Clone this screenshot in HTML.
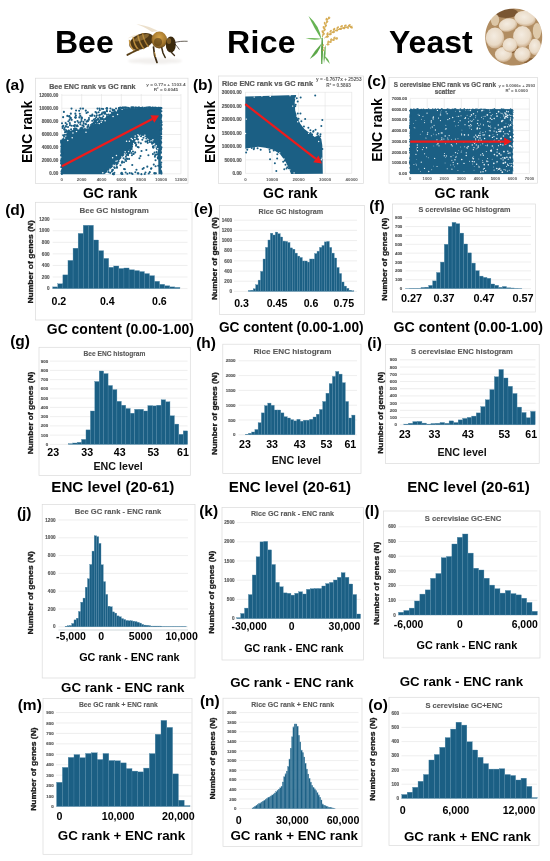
<!DOCTYPE html>
<html><head><meta charset="utf-8"><title>Figure</title>
<style>
html,body{margin:0;padding:0;background:#fff;width:550px;height:861px;overflow:hidden;}
svg{display:block;font-family:"Liberation Sans", sans-serif;will-change:transform;}
</style></head><body>
<svg width="550" height="861" viewBox="0 0 550 861" font-family='"Liberation Sans", sans-serif'><rect x="0" y="0" width="550" height="861" fill="#fff"/>
<text x="55.00" y="53.30" font-size="32.00" font-weight="bold" fill="#000" text-anchor="start">Bee</text>
<text x="227" y="53.3" font-size="32" font-weight="bold" letter-spacing="0.35">Rice</text>
<text x="389.00" y="53.30" font-size="32.00" font-weight="bold" fill="#000" text-anchor="start">Yeast</text>
<g>
<defs>
<radialGradient id="bAbd" cx="0.45" cy="0.4" r="0.65"><stop offset="0" stop-color="#8a6424"/><stop offset="1" stop-color="#3b2a12"/></radialGradient>
<radialGradient id="bTh" cx="0.5" cy="0.35" r="0.7"><stop offset="0" stop-color="#d6a448"/><stop offset="0.6" stop-color="#a5782e"/><stop offset="1" stop-color="#5e4218"/></radialGradient>
<filter id="blur1" x="-20%" y="-20%" width="140%" height="140%"><feGaussianBlur stdDeviation="0.45"/></filter>
<filter id="blur2" x="-20%" y="-20%" width="140%" height="140%"><feGaussianBlur stdDeviation="0.8"/></filter>
</defs>
<ellipse cx="155" cy="61" rx="27" ry="3" fill="#f2f0ee" filter="url(#blur2)"/>
<g filter="url(#blur1)">
<path d="M152,32 C147,28.5 141,25.5 136.5,24.5 C141,24.3 150,26.5 158,31 Z" fill="#e7d8bf" opacity="0.8"/>
<path d="M146,35.5 C140,35 133,36.5 127.5,38.5 C132,34.5 141,33.2 151,33.8 Z" fill="#ebdfc9" opacity="0.75"/>
<g transform="rotate(-22 141.5 41.5)">
<ellipse cx="141.5" cy="41.5" rx="12.8" ry="7.6" fill="#4e3716"/>
<path d="M131,35.5 C129.5,39 129.5,44 131.5,47.5" stroke="#c89a48" stroke-width="1.5" fill="none"/>
<path d="M135.5,34.3 C134,39 134,44.5 136,49" stroke="#b98c3c" stroke-width="1.5" fill="none"/>
<path d="M140.5,34 C139.5,39 139.5,44.5 141,49.3" stroke="#b08538" stroke-width="1.5" fill="none"/>
<path d="M145.5,34.2 C144.5,39 144.5,44.5 146,49" stroke="#a87c32" stroke-width="1.4" fill="none"/>
<ellipse cx="143" cy="38" rx="8" ry="2.5" fill="#c9a050" opacity="0.45"/>
</g>
<ellipse cx="159.3" cy="40" rx="7.8" ry="8.4" fill="url(#bTh)"/>
<ellipse cx="158" cy="42" rx="4" ry="4" fill="#4a3414" opacity="0.55"/>
<ellipse cx="170.8" cy="44.5" rx="5" ry="8" fill="#3a2911"/>
<ellipse cx="169" cy="41" rx="2.2" ry="3" fill="#7a5a26"/>
<path d="M174.6,42.5 C178,41.5 183,41 187.6,41.3" stroke="#2a2018" stroke-width="0.7" fill="none"/>
<path d="M174.6,43.6 C176.5,45.5 178,47.5 179.4,49.6" stroke="#2a2018" stroke-width="0.7" fill="none"/>
<path d="M153.5,47 L154.5,55 L157,62.5" stroke="#3a2a12" stroke-width="1.7" fill="none" stroke-linecap="round"/>
<path d="M161.8,48 L163,53 L165.2,57.5" stroke="#3a2a12" stroke-width="1.5" fill="none" stroke-linecap="round"/>
<path d="M170.5,50.5 L172,53 L174.5,55.5" stroke="#3a2a12" stroke-width="1.3" fill="none" stroke-linecap="round"/>
<path d="M138,49.6 L132,52.5 L127.4,54.9" stroke="#5a4018" stroke-width="1.9" fill="none" stroke-linecap="round"/>
<path d="M154.5,52 L155.5,57" stroke="#c89a48" stroke-width="0.9" fill="none"/>
</g>
</g>
<g filter="url(#blur1)"><path d="M308.50,16.00 Q314.12,28.23 321.50,39.50 Q319.38,25.33 308.50,16.00 Z" fill="#66b352"/><path d="M305.50,38.30 Q313.68,40.95 322.00,38.80 Q313.79,37.35 305.50,38.30 Z" fill="#72ba5c"/><path d="M309.80,59.00 Q319.08,53.84 321.50,43.50 Q314.61,50.47 309.80,59.00 Z" fill="#5ca748"/><path d="M321.50,64.00 Q324.30,50.07 322.30,36.00 Q320.30,49.95 321.50,64.00 Z" fill="#58a145"/><path d="M321.2,64 L321.6,38 L322.6,38 L322.4,64 Z" fill="#58a145"/><path d="M324.00,63.50 Q326.19,54.12 325.80,44.50 Q322.61,53.78 324.00,63.50 Z" fill="#66ad52"/><path d="M329.80,64.00 Q328.80,58.45 324.00,55.50 Q325.83,60.48 329.80,64.00 Z" fill="#6cb456"/><path d="M322.3,37 C324,30 326,22 329,16.5" stroke="#c39d45" stroke-width="0.9" fill="none"/><path d="M324.5,38 C331,32 340,27.5 352.5,26.2" stroke="#c39d45" stroke-width="0.9" fill="none"/><path d="M326.5,45 C329,41.5 333,39 337.5,37.5" stroke="#c39d45" stroke-width="0.9" fill="none"/><ellipse cx="323.72" cy="34.16" rx="1.50" ry="0.90" fill="#d9ae55" transform="rotate(-51.9 323.72 34.16)"/><ellipse cx="322.46" cy="31.66" rx="1.50" ry="0.90" fill="#d9ae55" transform="rotate(-101.9 322.46 31.66)"/><ellipse cx="324.70" cy="29.97" rx="1.50" ry="0.90" fill="#d9ae55" transform="rotate(-51.9 324.70 29.97)"/><ellipse cx="323.51" cy="27.44" rx="1.50" ry="0.90" fill="#d9ae55" transform="rotate(-99.1 323.51 27.44)"/><ellipse cx="325.83" cy="25.87" rx="1.50" ry="0.90" fill="#d9ae55" transform="rotate(-49.1 325.83 25.87)"/><ellipse cx="324.69" cy="23.31" rx="1.50" ry="0.90" fill="#d9ae55" transform="rotate(-99.1 324.69 23.31)"/><ellipse cx="327.04" cy="21.96" rx="1.50" ry="0.90" fill="#d9ae55" transform="rotate(-36.7 327.04 21.96)"/><ellipse cx="326.48" cy="19.21" rx="1.50" ry="0.90" fill="#d9ae55" transform="rotate(-86.7 326.48 19.21)"/><ellipse cx="329.08" cy="18.17" rx="1.50" ry="0.90" fill="#d9ae55" transform="rotate(-36.7 329.08 18.17)"/><ellipse cx="327.45" cy="36.72" rx="1.60" ry="1.00" fill="#d7ab52" transform="rotate(-15.0 327.45 36.72)"/><ellipse cx="327.51" cy="33.79" rx="1.60" ry="1.00" fill="#d7ab52" transform="rotate(-65.0 327.51 33.79)"/><ellipse cx="330.41" cy="34.23" rx="1.60" ry="1.00" fill="#d7ab52" transform="rotate(-15.0 330.41 34.23)"/><ellipse cx="330.67" cy="31.22" rx="1.60" ry="1.00" fill="#d7ab52" transform="rotate(-54.2 330.67 31.22)"/><ellipse cx="333.43" cy="32.20" rx="1.60" ry="1.00" fill="#d7ab52" transform="rotate(-4.2 333.43 32.20)"/><ellipse cx="334.05" cy="29.33" rx="1.60" ry="1.00" fill="#d7ab52" transform="rotate(-54.2 334.05 29.33)"/><ellipse cx="336.68" cy="30.42" rx="1.60" ry="1.00" fill="#d7ab52" transform="rotate(4.2 336.68 30.42)"/><ellipse cx="337.71" cy="27.67" rx="1.60" ry="1.00" fill="#d7ab52" transform="rotate(-45.8 337.71 27.67)"/><ellipse cx="340.30" cy="29.04" rx="1.60" ry="1.00" fill="#d7ab52" transform="rotate(4.2 340.30 29.04)"/><ellipse cx="341.55" cy="26.38" rx="1.60" ry="1.00" fill="#d7ab52" transform="rotate(-35.3 341.55 26.38)"/><ellipse cx="343.85" cy="28.20" rx="1.60" ry="1.00" fill="#d7ab52" transform="rotate(14.7 343.85 28.20)"/><ellipse cx="345.36" cy="25.69" rx="1.60" ry="1.00" fill="#d7ab52" transform="rotate(-35.3 345.36 25.69)"/><ellipse cx="347.53" cy="27.65" rx="1.60" ry="1.00" fill="#d7ab52" transform="rotate(22.0 347.53 27.65)"/><ellipse cx="349.35" cy="25.35" rx="1.60" ry="1.00" fill="#d7ab52" transform="rotate(-28.0 349.35 25.35)"/><ellipse cx="351.39" cy="27.45" rx="1.60" ry="1.00" fill="#d7ab52" transform="rotate(22.0 351.39 27.45)"/><ellipse cx="328.27" cy="44.46" rx="1.40" ry="0.90" fill="#d9b05a" transform="rotate(-21.8 328.27 44.46)"/><ellipse cx="328.18" cy="41.93" rx="1.40" ry="0.90" fill="#d9b05a" transform="rotate(-71.8 328.18 41.93)"/><ellipse cx="330.57" cy="42.00" rx="1.40" ry="0.90" fill="#d9b05a" transform="rotate(-8.3 330.57 42.00)"/><ellipse cx="331.08" cy="39.52" rx="1.40" ry="0.90" fill="#d9b05a" transform="rotate(-58.3 331.08 39.52)"/><ellipse cx="333.56" cy="40.04" rx="1.40" ry="0.90" fill="#d9b05a" transform="rotate(-8.3 333.56 40.04)"/><ellipse cx="334.37" cy="37.71" rx="1.40" ry="0.90" fill="#d9b05a" transform="rotate(-45.7 334.37 37.71)"/><ellipse cx="336.68" cy="38.76" rx="1.40" ry="0.90" fill="#d9b05a" transform="rotate(4.3 336.68 38.76)"/><ellipse cx="323.24" cy="45.23" rx="1.00" ry="0.70" fill="#d4a850" transform="rotate(117.9 323.24 45.23)"/><ellipse cx="324.11" cy="47.78" rx="1.00" ry="0.70" fill="#d4a850" transform="rotate(67.9 324.11 47.78)"/><ellipse cx="323.23" cy="50.28" rx="1.00" ry="0.70" fill="#d4a850" transform="rotate(111.7 323.23 50.28)"/></g>
<g>
<defs><clipPath id="yc"><path d="M513.7,8.5 C530,8.5 542.2,20.5 542.2,37 C542.2,53.5 530,65.5 513.7,65.5 C497.5,65.5 485.2,53.5 485.2,37 C485.2,20.5 497.5,8.5 513.7,8.5 Z"/></clipPath>
<radialGradient id="ycell" cx="0.45" cy="0.4" r="0.62"><stop offset="0" stop-color="#f4ece1"/><stop offset="0.7" stop-color="#e9dac6"/><stop offset="1" stop-color="#c9a985"/></radialGradient>
</defs>
<g clip-path="url(#yc)" filter="url(#blur1)">
<rect x="484" y="8" width="59" height="58" fill="#b18d62"/>
<ellipse cx="506" cy="13" rx="12" ry="5" fill="#7a5632"/>
<ellipse cx="513" cy="49" rx="5" ry="4" fill="#8a6238"/>
<ellipse cx="532" cy="62" rx="8" ry="4" fill="#8a6238"/>
<ellipse cx="495" cy="20" rx="4.2" ry="6" fill="#dcc6a6"/>
<ellipse cx="537" cy="31" rx="4.2" ry="8" fill="#dfcaab"/>
<ellipse cx="525" cy="18.6" rx="10.8" ry="7.6" fill="url(#ycell)" transform="rotate(8 525 18.6)"/>
<ellipse cx="508" cy="25" rx="9.2" ry="6.6" fill="url(#ycell)" transform="rotate(-12 508 25)"/>
<ellipse cx="495" cy="38" rx="9.2" ry="10.6" fill="url(#ycell)"/>
<ellipse cx="535" cy="47" rx="6.2" ry="8.2" fill="url(#ycell)"/>
<ellipse cx="522.5" cy="36.7" rx="9.4" ry="10.6" fill="url(#ycell)"/>
<ellipse cx="503.5" cy="54.5" rx="8.6" ry="7.4" fill="url(#ycell)"/>
<ellipse cx="522.5" cy="54.5" rx="8.2" ry="7.4" fill="url(#ycell)"/>
<ellipse cx="510" cy="45.2" rx="7.4" ry="7.3" fill="url(#ycell)"/>
</g>
</g>
<rect x="35.50" y="78.20" width="152.50" height="105.40" fill="#fff" stroke="#dadada" stroke-width="0.7"/>
<line x1="61.80" y1="94.00" x2="61.80" y2="173.80" stroke="#e3e3e3" stroke-width="0.60"/>
<line x1="81.66" y1="94.00" x2="81.66" y2="173.80" stroke="#e3e3e3" stroke-width="0.60"/>
<line x1="101.52" y1="94.00" x2="101.52" y2="173.80" stroke="#e3e3e3" stroke-width="0.60"/>
<line x1="121.38" y1="94.00" x2="121.38" y2="173.80" stroke="#e3e3e3" stroke-width="0.60"/>
<line x1="141.24" y1="94.00" x2="141.24" y2="173.80" stroke="#e3e3e3" stroke-width="0.60"/>
<line x1="161.10" y1="94.00" x2="161.10" y2="173.80" stroke="#e3e3e3" stroke-width="0.60"/>
<line x1="180.96" y1="94.00" x2="180.96" y2="173.80" stroke="#e3e3e3" stroke-width="0.60"/>
<line x1="61.80" y1="173.80" x2="180.96" y2="173.80" stroke="#e3e3e3" stroke-width="0.60"/>
<line x1="61.80" y1="160.70" x2="180.96" y2="160.70" stroke="#e3e3e3" stroke-width="0.60"/>
<line x1="61.80" y1="147.60" x2="180.96" y2="147.60" stroke="#e3e3e3" stroke-width="0.60"/>
<line x1="61.80" y1="134.50" x2="180.96" y2="134.50" stroke="#e3e3e3" stroke-width="0.60"/>
<line x1="61.80" y1="121.40" x2="180.96" y2="121.40" stroke="#e3e3e3" stroke-width="0.60"/>
<line x1="61.80" y1="108.30" x2="180.96" y2="108.30" stroke="#e3e3e3" stroke-width="0.60"/>
<line x1="61.80" y1="95.20" x2="180.96" y2="95.20" stroke="#e3e3e3" stroke-width="0.60"/>
<text x="49.13" y="89.20" font-size="7.10" font-weight="bold" fill="#595959" stroke="#595959" stroke-width="0.20" textLength="86.37" lengthAdjust="spacingAndGlyphs">Bee ENC rank vs GC rank</text>
<text x="146.36" y="85.60" font-size="4.40" font-weight="bold" fill="#595959" textLength="39.16" lengthAdjust="spacingAndGlyphs">y = 0.77x + 1103.4</text>
<text x="153.79" y="90.50" font-size="4.40" font-weight="bold" fill="#595959" textLength="24.34" lengthAdjust="spacingAndGlyphs">R² = 0.6045</text>
<text x="58.30" y="175.46" font-size="4.60" font-weight="bold" fill="#595959" text-anchor="end" stroke="#595959" stroke-width="0.15">0.00</text>
<text x="58.30" y="162.36" font-size="4.60" font-weight="bold" fill="#595959" text-anchor="end" stroke="#595959" stroke-width="0.15">2000.00</text>
<text x="58.30" y="149.26" font-size="4.60" font-weight="bold" fill="#595959" text-anchor="end" stroke="#595959" stroke-width="0.15">4000.00</text>
<text x="58.30" y="136.16" font-size="4.60" font-weight="bold" fill="#595959" text-anchor="end" stroke="#595959" stroke-width="0.15">6000.00</text>
<text x="58.30" y="123.06" font-size="4.60" font-weight="bold" fill="#595959" text-anchor="end" stroke="#595959" stroke-width="0.15">8000.00</text>
<text x="58.30" y="109.96" font-size="4.60" font-weight="bold" fill="#595959" text-anchor="end" stroke="#595959" stroke-width="0.15">10000.00</text>
<text x="58.30" y="96.86" font-size="4.60" font-weight="bold" fill="#595959" text-anchor="end" stroke="#595959" stroke-width="0.15">12000.00</text>
<text x="61.80" y="180.60" font-size="4.40" font-weight="bold" fill="#595959" text-anchor="middle">0</text>
<text x="81.66" y="180.60" font-size="4.40" font-weight="bold" fill="#595959" text-anchor="middle">2000</text>
<text x="101.52" y="180.60" font-size="4.40" font-weight="bold" fill="#595959" text-anchor="middle">4000</text>
<text x="121.38" y="180.60" font-size="4.40" font-weight="bold" fill="#595959" text-anchor="middle">6000</text>
<text x="141.24" y="180.60" font-size="4.40" font-weight="bold" fill="#595959" text-anchor="middle">8000</text>
<text x="161.10" y="180.60" font-size="4.40" font-weight="bold" fill="#595959" text-anchor="middle">10000</text>
<text x="180.96" y="180.60" font-size="4.40" font-weight="bold" fill="#595959" text-anchor="middle">12000</text>
<polygon fill="#1b5f84" points="62.00,139.00 65.20,135.50 67.70,131.50 72.80,129.90 80.50,129.30 86.80,127.40 90.60,125.50 97.00,122.90 103.40,119.10 108.50,115.30 113.50,111.50 118.60,108.90 125.00,108.20 160.80,108.00 160.80,174.30 62.00,174.30"/>
<polygon fill="#fff" points="104.00,174.40 108.00,171.50 113.00,166.50 118.00,161.50 123.00,156.50 129.00,150.50 133.00,145.00 136.50,138.50 139.50,136.00 143.50,135.80 148.50,139.00 154.00,145.00 157.30,151.50 158.20,158.00 158.50,174.40"/>
<g fill="#fff"><circle cx="65.68" cy="136.08" r="0.75"/><circle cx="105.11" cy="120.70" r="0.75"/><circle cx="72.21" cy="137.84" r="0.75"/><circle cx="72.91" cy="133.11" r="0.75"/><circle cx="88.00" cy="127.66" r="0.75"/><circle cx="67.76" cy="140.51" r="0.75"/><circle cx="85.98" cy="132.24" r="0.75"/><circle cx="97.33" cy="123.10" r="0.75"/><circle cx="113.05" cy="116.40" r="0.75"/><circle cx="102.20" cy="120.46" r="0.75"/><circle cx="64.64" cy="137.94" r="0.75"/><circle cx="99.26" cy="123.56" r="0.75"/><circle cx="117.54" cy="114.45" r="0.75"/><circle cx="86.19" cy="127.97" r="0.75"/><circle cx="76.49" cy="131.47" r="0.75"/><circle cx="89.39" cy="126.12" r="0.75"/><circle cx="116.41" cy="110.83" r="0.75"/><circle cx="122.11" cy="109.32" r="0.75"/><circle cx="62.07" cy="141.65" r="0.75"/><circle cx="101.25" cy="122.33" r="0.75"/><circle cx="126.55" cy="141.17" r="0.75"/><circle cx="129.39" cy="141.33" r="0.75"/><circle cx="152.93" cy="139.81" r="0.75"/><circle cx="144.88" cy="135.23" r="0.75"/><circle cx="116.41" cy="155.51" r="0.75"/><circle cx="132.37" cy="139.44" r="0.75"/><circle cx="154.51" cy="143.93" r="0.75"/><circle cx="131.23" cy="138.38" r="0.75"/><circle cx="140.46" cy="135.42" r="0.75"/><circle cx="157.21" cy="151.12" r="0.75"/><circle cx="112.63" cy="157.76" r="0.75"/><circle cx="153.51" cy="144.39" r="0.75"/><circle cx="134.73" cy="138.38" r="0.75"/><circle cx="125.12" cy="151.86" r="0.75"/><circle cx="116.12" cy="161.18" r="0.75"/><circle cx="109.92" cy="169.33" r="0.75"/><circle cx="113.26" cy="165.18" r="0.75"/><circle cx="156.28" cy="145.65" r="0.75"/><circle cx="150.73" cy="140.85" r="0.75"/><circle cx="155.80" cy="147.06" r="0.75"/><circle cx="107.89" cy="171.21" r="0.75"/><circle cx="102.82" cy="172.63" r="0.75"/><circle cx="138.64" cy="135.64" r="0.75"/><circle cx="135.74" cy="138.58" r="0.75"/><circle cx="124.56" cy="154.10" r="0.75"/><circle cx="157.72" cy="148.85" r="0.75"/><circle cx="121.83" cy="157.08" r="0.75"/><circle cx="117.35" cy="161.11" r="0.75"/><circle cx="137.92" cy="134.87" r="0.75"/><circle cx="157.25" cy="151.04" r="0.75"/><circle cx="152.03" cy="141.05" r="0.75"/><circle cx="133.68" cy="143.57" r="0.75"/><circle cx="135.17" cy="136.03" r="0.75"/></g>
<g fill="#1b5f84"><circle cx="65.65" cy="126.37" r="1.05"/><circle cx="71.58" cy="125.70" r="1.05"/><circle cx="68.39" cy="121.22" r="1.05"/><circle cx="94.61" cy="120.93" r="1.05"/><circle cx="96.57" cy="112.89" r="1.05"/><circle cx="63.14" cy="117.17" r="1.05"/><circle cx="87.50" cy="120.64" r="1.05"/><circle cx="81.50" cy="120.97" r="1.05"/><circle cx="74.66" cy="126.27" r="1.05"/><circle cx="81.18" cy="128.53" r="1.05"/><circle cx="88.97" cy="118.05" r="1.05"/><circle cx="102.60" cy="118.45" r="1.05"/><circle cx="102.67" cy="119.08" r="1.05"/><circle cx="81.94" cy="118.07" r="1.05"/><circle cx="94.63" cy="121.93" r="1.05"/><circle cx="93.88" cy="119.62" r="1.05"/><circle cx="103.15" cy="109.00" r="1.05"/><circle cx="81.49" cy="118.95" r="1.05"/><circle cx="75.01" cy="122.10" r="1.05"/><circle cx="101.89" cy="108.74" r="1.05"/><circle cx="75.37" cy="113.63" r="1.05"/><circle cx="107.18" cy="108.61" r="1.05"/><circle cx="83.73" cy="126.80" r="1.05"/><circle cx="75.75" cy="128.65" r="1.05"/><circle cx="119.37" cy="108.58" r="1.05"/><circle cx="112.82" cy="110.42" r="1.05"/><circle cx="70.33" cy="118.10" r="1.05"/><circle cx="96.27" cy="117.14" r="1.05"/><circle cx="76.27" cy="128.70" r="1.05"/><circle cx="64.74" cy="129.82" r="1.05"/><circle cx="98.63" cy="112.27" r="1.05"/><circle cx="96.70" cy="122.73" r="1.05"/><circle cx="79.38" cy="117.42" r="1.05"/><circle cx="65.62" cy="123.03" r="1.05"/><circle cx="83.43" cy="121.84" r="1.05"/><circle cx="74.65" cy="128.63" r="1.05"/><circle cx="105.21" cy="113.74" r="1.05"/><circle cx="82.08" cy="128.27" r="1.05"/><circle cx="100.58" cy="118.05" r="1.05"/><circle cx="63.92" cy="136.06" r="1.05"/><circle cx="93.79" cy="123.38" r="1.05"/><circle cx="75.19" cy="117.22" r="1.05"/><circle cx="98.88" cy="121.76" r="1.05"/><circle cx="112.57" cy="109.56" r="1.05"/><circle cx="63.15" cy="135.30" r="1.05"/><circle cx="80.33" cy="122.41" r="1.05"/><circle cx="110.43" cy="108.45" r="1.05"/><circle cx="76.07" cy="110.52" r="1.05"/><circle cx="92.34" cy="114.64" r="1.05"/><circle cx="75.54" cy="117.72" r="1.05"/><circle cx="79.16" cy="110.71" r="1.05"/><circle cx="74.14" cy="129.05" r="1.05"/><circle cx="102.12" cy="118.17" r="1.05"/><circle cx="74.47" cy="129.39" r="1.05"/><circle cx="96.91" cy="122.70" r="1.05"/><circle cx="106.93" cy="108.26" r="1.05"/><circle cx="100.05" cy="114.68" r="1.05"/><circle cx="99.50" cy="117.34" r="1.05"/><circle cx="86.57" cy="121.78" r="1.05"/><circle cx="98.20" cy="119.73" r="1.05"/><circle cx="99.00" cy="121.70" r="1.05"/><circle cx="91.10" cy="115.81" r="1.05"/><circle cx="81.78" cy="127.91" r="1.05"/><circle cx="87.58" cy="126.98" r="1.05"/><circle cx="69.19" cy="116.20" r="1.05"/><circle cx="99.62" cy="120.25" r="1.05"/><circle cx="93.58" cy="123.05" r="1.05"/><circle cx="69.98" cy="125.15" r="1.05"/><circle cx="64.96" cy="134.77" r="1.05"/><circle cx="66.79" cy="124.40" r="1.05"/><circle cx="103.22" cy="116.23" r="1.05"/><circle cx="69.81" cy="123.17" r="1.05"/><circle cx="103.20" cy="112.26" r="1.05"/><circle cx="111.88" cy="112.53" r="1.05"/><circle cx="69.58" cy="119.83" r="1.05"/><circle cx="63.26" cy="125.89" r="1.05"/><circle cx="85.81" cy="110.66" r="1.05"/><circle cx="86.47" cy="112.98" r="1.05"/><circle cx="90.99" cy="125.03" r="1.05"/><circle cx="116.04" cy="108.57" r="1.05"/><circle cx="75.68" cy="117.38" r="1.05"/><circle cx="110.03" cy="111.32" r="1.05"/><circle cx="106.39" cy="108.47" r="1.05"/><circle cx="107.03" cy="116.38" r="1.05"/><circle cx="87.87" cy="121.15" r="1.05"/><circle cx="96.96" cy="119.86" r="1.05"/><circle cx="88.48" cy="126.29" r="1.05"/><circle cx="96.81" cy="115.37" r="1.05"/><circle cx="96.21" cy="120.85" r="1.05"/><circle cx="76.69" cy="129.59" r="1.05"/><circle cx="74.96" cy="124.94" r="1.05"/><circle cx="104.90" cy="112.15" r="1.05"/><circle cx="77.17" cy="125.21" r="1.05"/><circle cx="77.73" cy="126.19" r="1.05"/><circle cx="67.95" cy="131.34" r="1.05"/><circle cx="94.53" cy="115.85" r="1.05"/><circle cx="71.12" cy="129.39" r="1.05"/><circle cx="64.47" cy="127.94" r="1.05"/><circle cx="62.01" cy="123.19" r="1.05"/><circle cx="88.35" cy="124.94" r="1.05"/><circle cx="69.41" cy="116.25" r="1.05"/><circle cx="95.22" cy="118.74" r="1.05"/><circle cx="66.24" cy="130.34" r="1.05"/><circle cx="95.49" cy="122.08" r="1.05"/><circle cx="95.19" cy="120.92" r="1.05"/><circle cx="81.57" cy="117.20" r="1.05"/><circle cx="104.20" cy="113.58" r="1.05"/><circle cx="65.03" cy="132.14" r="1.05"/><circle cx="94.34" cy="123.60" r="1.05"/><circle cx="80.38" cy="124.37" r="1.05"/><circle cx="99.79" cy="110.15" r="1.05"/><circle cx="92.81" cy="124.10" r="1.05"/><circle cx="87.87" cy="112.32" r="1.05"/><circle cx="63.89" cy="111.89" r="1.05"/><circle cx="80.25" cy="115.83" r="1.05"/><circle cx="105.23" cy="113.01" r="1.05"/><circle cx="78.46" cy="122.58" r="1.05"/><circle cx="84.91" cy="119.85" r="1.05"/><circle cx="108.69" cy="114.58" r="1.05"/><circle cx="92.14" cy="115.82" r="1.05"/><circle cx="97.96" cy="118.77" r="1.05"/><circle cx="62.59" cy="127.95" r="1.05"/><circle cx="67.32" cy="115.91" r="1.05"/><circle cx="95.24" cy="120.58" r="1.05"/><circle cx="101.95" cy="113.23" r="1.05"/><circle cx="68.88" cy="130.54" r="1.05"/><circle cx="87.78" cy="126.43" r="1.05"/><circle cx="76.73" cy="125.98" r="1.05"/><circle cx="99.15" cy="115.27" r="1.05"/><circle cx="75.88" cy="115.51" r="1.05"/><circle cx="101.39" cy="119.04" r="1.05"/><circle cx="101.76" cy="114.31" r="1.05"/><circle cx="85.98" cy="124.33" r="1.05"/><circle cx="88.92" cy="119.69" r="1.05"/><circle cx="90.20" cy="115.80" r="1.05"/><circle cx="113.87" cy="110.55" r="1.05"/><circle cx="71.69" cy="119.86" r="1.05"/><circle cx="66.01" cy="126.59" r="1.05"/><circle cx="92.10" cy="124.17" r="1.05"/><circle cx="82.42" cy="125.48" r="1.05"/><circle cx="66.05" cy="131.71" r="1.05"/><circle cx="106.79" cy="110.89" r="1.05"/><circle cx="66.67" cy="131.76" r="1.05"/><circle cx="68.59" cy="130.84" r="1.05"/><circle cx="70.83" cy="113.67" r="1.05"/><circle cx="100.75" cy="118.95" r="1.05"/><circle cx="106.94" cy="114.69" r="1.05"/><circle cx="94.52" cy="122.41" r="1.05"/><circle cx="83.39" cy="125.22" r="1.05"/><circle cx="64.27" cy="129.48" r="1.05"/><circle cx="62.59" cy="126.56" r="1.05"/><circle cx="107.00" cy="111.27" r="1.05"/><circle cx="83.66" cy="123.18" r="1.05"/><circle cx="79.80" cy="113.74" r="1.05"/><circle cx="80.59" cy="129.23" r="1.05"/><circle cx="114.28" cy="110.00" r="1.05"/><circle cx="70.91" cy="118.04" r="1.05"/><circle cx="74.56" cy="128.73" r="1.05"/><circle cx="77.53" cy="121.04" r="1.05"/><circle cx="85.35" cy="123.96" r="1.05"/><circle cx="69.40" cy="116.56" r="1.05"/><circle cx="80.67" cy="128.32" r="1.05"/><circle cx="92.22" cy="120.76" r="1.05"/><circle cx="73.57" cy="125.68" r="1.05"/><circle cx="95.50" cy="111.98" r="1.05"/><circle cx="80.41" cy="129.22" r="1.05"/><circle cx="68.01" cy="127.03" r="1.05"/><circle cx="71.50" cy="108.60" r="1.05"/><circle cx="80.50" cy="108.60" r="1.05"/><circle cx="83.00" cy="108.60" r="1.05"/><circle cx="97.50" cy="108.60" r="1.05"/><circle cx="99.50" cy="108.60" r="1.05"/><circle cx="107.00" cy="108.60" r="1.05"/><circle cx="129.13" cy="152.92" r="1.05"/><circle cx="149.78" cy="172.16" r="1.05"/><circle cx="133.30" cy="153.99" r="1.05"/><circle cx="126.37" cy="158.47" r="1.05"/><circle cx="139.44" cy="158.24" r="1.05"/><circle cx="132.25" cy="164.96" r="1.05"/><circle cx="157.83" cy="157.51" r="1.05"/><circle cx="135.51" cy="142.91" r="1.05"/><circle cx="121.31" cy="173.38" r="1.05"/><circle cx="111.90" cy="171.53" r="1.05"/><circle cx="147.70" cy="142.86" r="1.05"/><circle cx="130.45" cy="149.14" r="1.05"/><circle cx="132.93" cy="151.54" r="1.05"/><circle cx="127.32" cy="152.48" r="1.05"/><circle cx="118.59" cy="161.22" r="1.05"/><circle cx="113.49" cy="174.13" r="1.05"/><circle cx="122.43" cy="174.04" r="1.05"/><circle cx="136.72" cy="138.85" r="1.05"/><circle cx="132.53" cy="174.03" r="1.05"/><circle cx="148.75" cy="173.56" r="1.05"/><circle cx="124.03" cy="162.20" r="1.05"/><circle cx="155.53" cy="160.27" r="1.05"/><circle cx="149.74" cy="141.97" r="1.05"/><circle cx="121.66" cy="173.65" r="1.05"/><circle cx="112.96" cy="173.90" r="1.05"/><circle cx="158.12" cy="158.62" r="1.05"/><circle cx="116.54" cy="164.82" r="1.05"/><circle cx="114.36" cy="172.70" r="1.05"/><circle cx="136.18" cy="144.76" r="1.05"/><circle cx="126.47" cy="154.95" r="1.05"/><circle cx="117.21" cy="162.45" r="1.05"/><circle cx="154.91" cy="156.68" r="1.05"/><circle cx="112.22" cy="170.06" r="1.05"/><circle cx="127.98" cy="154.10" r="1.05"/><circle cx="124.06" cy="169.06" r="1.05"/><circle cx="151.33" cy="142.21" r="1.05"/><circle cx="129.08" cy="158.89" r="1.05"/><circle cx="156.59" cy="152.09" r="1.05"/><circle cx="132.04" cy="146.55" r="1.05"/><circle cx="135.17" cy="152.42" r="1.05"/><circle cx="130.06" cy="150.53" r="1.05"/><circle cx="128.09" cy="155.18" r="1.05"/><circle cx="148.41" cy="155.29" r="1.05"/><circle cx="157.92" cy="157.90" r="1.05"/><circle cx="152.09" cy="143.64" r="1.05"/><circle cx="125.87" cy="156.76" r="1.05"/><circle cx="153.78" cy="164.62" r="1.05"/><circle cx="125.27" cy="159.73" r="1.05"/><circle cx="141.51" cy="150.97" r="1.05"/><circle cx="137.94" cy="139.38" r="1.05"/><circle cx="121.77" cy="172.69" r="1.05"/><circle cx="126.12" cy="161.01" r="1.05"/><circle cx="155.58" cy="166.31" r="1.05"/><circle cx="154.93" cy="173.41" r="1.05"/><circle cx="112.91" cy="169.90" r="1.05"/><circle cx="127.59" cy="153.66" r="1.05"/><circle cx="131.72" cy="148.98" r="1.05"/><circle cx="146.35" cy="149.96" r="1.05"/><circle cx="155.91" cy="173.31" r="1.05"/><circle cx="120.49" cy="165.26" r="1.05"/><circle cx="122.16" cy="161.62" r="1.05"/><circle cx="151.39" cy="168.33" r="1.05"/><circle cx="114.80" cy="168.06" r="1.05"/><circle cx="145.54" cy="141.58" r="1.05"/><circle cx="141.03" cy="136.30" r="1.05"/><circle cx="155.17" cy="155.13" r="1.05"/><circle cx="123.59" cy="158.21" r="1.05"/><circle cx="136.06" cy="145.81" r="1.05"/><circle cx="149.56" cy="140.19" r="1.05"/><circle cx="116.83" cy="163.95" r="1.05"/><circle cx="152.90" cy="146.87" r="1.05"/><circle cx="151.01" cy="168.80" r="1.05"/><circle cx="158.26" cy="165.76" r="1.05"/><circle cx="117.81" cy="163.03" r="1.05"/><circle cx="128.11" cy="154.05" r="1.05"/><circle cx="142.63" cy="169.03" r="1.05"/><circle cx="145.48" cy="172.52" r="1.05"/><circle cx="114.30" cy="167.33" r="1.05"/><circle cx="157.57" cy="154.39" r="1.05"/><circle cx="154.29" cy="173.14" r="1.05"/><circle cx="147.31" cy="166.63" r="1.05"/><circle cx="135.05" cy="142.88" r="1.05"/><circle cx="153.36" cy="146.37" r="1.05"/><circle cx="131.57" cy="147.25" r="1.05"/><circle cx="146.99" cy="141.53" r="1.05"/><circle cx="127.21" cy="158.89" r="1.05"/><circle cx="154.53" cy="152.66" r="1.05"/><circle cx="153.34" cy="147.57" r="1.05"/><circle cx="137.77" cy="147.06" r="1.05"/><circle cx="131.91" cy="155.26" r="1.05"/><circle cx="116.99" cy="167.75" r="1.05"/><circle cx="131.02" cy="148.52" r="1.05"/><circle cx="135.34" cy="172.19" r="1.05"/><circle cx="143.49" cy="137.71" r="1.05"/><circle cx="143.71" cy="167.97" r="1.05"/><circle cx="140.86" cy="143.35" r="1.05"/><circle cx="131.22" cy="153.07" r="1.05"/><circle cx="133.68" cy="153.85" r="1.05"/><circle cx="141.40" cy="174.16" r="1.05"/><circle cx="140.51" cy="156.10" r="1.05"/><circle cx="116.86" cy="167.09" r="1.05"/><circle cx="142.36" cy="139.79" r="1.05"/><circle cx="121.95" cy="162.70" r="1.05"/><circle cx="125.66" cy="172.48" r="1.05"/><circle cx="138.63" cy="147.34" r="1.05"/><circle cx="124.88" cy="169.23" r="1.05"/><circle cx="153.43" cy="147.45" r="1.05"/><circle cx="130.18" cy="151.24" r="1.05"/><circle cx="127.34" cy="173.72" r="1.05"/><circle cx="158.04" cy="157.41" r="1.05"/><circle cx="138.42" cy="173.41" r="1.05"/><circle cx="152.91" cy="154.08" r="1.05"/><circle cx="113.90" cy="174.19" r="1.05"/><circle cx="146.35" cy="138.57" r="1.05"/><circle cx="131.61" cy="173.19" r="1.05"/><circle cx="137.76" cy="173.34" r="1.05"/><circle cx="136.46" cy="169.76" r="1.05"/><circle cx="138.56" cy="142.40" r="1.05"/><circle cx="156.15" cy="154.52" r="1.05"/><circle cx="129.67" cy="173.00" r="1.05"/><circle cx="108.50" cy="172.14" r="1.05"/><circle cx="144.74" cy="174.05" r="1.05"/><circle cx="110.13" cy="172.85" r="1.05"/><circle cx="147.75" cy="140.43" r="1.05"/><circle cx="160.69" cy="116.60" r="1.05"/><circle cx="143.21" cy="108.49" r="1.05"/><circle cx="62.28" cy="149.21" r="1.05"/><circle cx="160.69" cy="130.22" r="1.05"/><circle cx="123.00" cy="108.03" r="1.05"/><circle cx="61.66" cy="161.91" r="1.05"/><circle cx="160.40" cy="113.71" r="1.05"/><circle cx="122.52" cy="108.10" r="1.05"/><circle cx="61.36" cy="154.96" r="1.05"/><circle cx="160.90" cy="129.80" r="1.05"/><circle cx="154.56" cy="108.12" r="1.05"/><circle cx="61.95" cy="149.08" r="1.05"/><circle cx="160.87" cy="129.76" r="1.05"/><circle cx="149.80" cy="107.80" r="1.05"/><circle cx="62.11" cy="152.71" r="1.05"/><circle cx="160.26" cy="142.05" r="1.05"/><circle cx="137.66" cy="107.75" r="1.05"/><circle cx="61.78" cy="161.63" r="1.05"/><circle cx="160.80" cy="158.00" r="1.05"/><circle cx="154.74" cy="108.29" r="1.05"/><circle cx="61.64" cy="148.47" r="1.05"/><circle cx="161.32" cy="122.86" r="1.05"/><circle cx="121.27" cy="107.83" r="1.05"/><circle cx="61.67" cy="167.19" r="1.05"/><circle cx="160.93" cy="151.99" r="1.05"/><circle cx="150.35" cy="108.19" r="1.05"/><circle cx="61.59" cy="142.49" r="1.05"/><circle cx="161.31" cy="157.03" r="1.05"/><circle cx="124.98" cy="107.41" r="1.05"/><circle cx="61.98" cy="166.08" r="1.05"/><circle cx="160.83" cy="122.81" r="1.05"/><circle cx="132.84" cy="107.47" r="1.05"/><circle cx="61.89" cy="149.58" r="1.05"/><circle cx="161.04" cy="128.28" r="1.05"/><circle cx="142.14" cy="108.34" r="1.05"/><circle cx="61.94" cy="148.21" r="1.05"/><circle cx="160.94" cy="158.57" r="1.05"/><circle cx="128.06" cy="107.78" r="1.05"/><circle cx="61.87" cy="150.89" r="1.05"/><circle cx="160.83" cy="126.00" r="1.05"/><circle cx="131.68" cy="108.11" r="1.05"/><circle cx="61.46" cy="152.03" r="1.05"/><circle cx="160.87" cy="108.29" r="1.05"/><circle cx="118.89" cy="108.16" r="1.05"/><circle cx="61.35" cy="166.94" r="1.05"/><circle cx="161.29" cy="115.59" r="1.05"/><circle cx="149.54" cy="108.49" r="1.05"/><circle cx="61.30" cy="155.80" r="1.05"/><circle cx="160.81" cy="120.53" r="1.05"/><circle cx="140.63" cy="108.33" r="1.05"/><circle cx="61.70" cy="161.33" r="1.05"/><circle cx="161.45" cy="147.40" r="1.05"/><circle cx="119.43" cy="108.17" r="1.05"/><circle cx="62.23" cy="147.11" r="1.05"/><circle cx="161.23" cy="116.78" r="1.05"/><circle cx="153.56" cy="107.99" r="1.05"/><circle cx="61.57" cy="155.13" r="1.05"/><circle cx="161.20" cy="171.90" r="1.05"/><circle cx="138.72" cy="107.67" r="1.05"/><circle cx="62.28" cy="153.65" r="1.05"/><circle cx="160.39" cy="149.33" r="1.05"/><circle cx="140.57" cy="107.94" r="1.05"/><circle cx="62.23" cy="152.46" r="1.05"/><circle cx="160.44" cy="150.03" r="1.05"/><circle cx="136.17" cy="107.47" r="1.05"/><circle cx="61.62" cy="163.40" r="1.05"/><circle cx="161.29" cy="172.53" r="1.05"/><circle cx="151.01" cy="108.28" r="1.05"/><circle cx="61.81" cy="164.93" r="1.05"/><circle cx="161.45" cy="173.60" r="1.05"/><circle cx="133.38" cy="107.53" r="1.05"/><circle cx="61.46" cy="142.35" r="1.05"/><circle cx="160.23" cy="141.73" r="1.05"/><circle cx="141.69" cy="107.96" r="1.05"/><circle cx="61.99" cy="152.20" r="1.05"/><circle cx="160.98" cy="120.51" r="1.05"/><circle cx="152.52" cy="107.90" r="1.05"/><circle cx="62.19" cy="146.02" r="1.05"/><circle cx="161.01" cy="129.84" r="1.05"/><circle cx="160.13" cy="107.76" r="1.05"/><circle cx="61.95" cy="153.43" r="1.05"/><circle cx="161.21" cy="132.02" r="1.05"/><circle cx="132.86" cy="107.63" r="1.05"/><circle cx="62.15" cy="167.47" r="1.05"/><circle cx="160.49" cy="146.14" r="1.05"/><circle cx="156.15" cy="107.87" r="1.05"/><circle cx="62.11" cy="142.61" r="1.05"/><circle cx="160.65" cy="143.71" r="1.05"/><circle cx="120.15" cy="107.54" r="1.05"/><circle cx="61.44" cy="160.12" r="1.05"/><circle cx="160.36" cy="111.07" r="1.05"/><circle cx="151.65" cy="108.26" r="1.05"/><circle cx="61.85" cy="141.23" r="1.05"/><circle cx="160.78" cy="170.92" r="1.05"/><circle cx="122.99" cy="107.32" r="1.05"/><circle cx="61.59" cy="151.92" r="1.05"/><circle cx="161.40" cy="124.79" r="1.05"/><circle cx="135.52" cy="108.28" r="1.05"/><circle cx="61.37" cy="163.31" r="1.05"/><circle cx="161.47" cy="129.05" r="1.05"/><circle cx="131.43" cy="107.39" r="1.05"/><circle cx="62.04" cy="170.08" r="1.05"/><circle cx="160.72" cy="164.25" r="1.05"/><circle cx="144.68" cy="108.20" r="1.05"/><circle cx="61.46" cy="160.87" r="1.05"/><circle cx="160.96" cy="115.23" r="1.05"/><circle cx="144.71" cy="108.18" r="1.05"/><circle cx="61.86" cy="163.53" r="1.05"/><circle cx="161.24" cy="136.77" r="1.05"/><circle cx="138.86" cy="108.15" r="1.05"/><circle cx="62.24" cy="141.26" r="1.05"/><circle cx="161.50" cy="125.07" r="1.05"/><circle cx="158.24" cy="107.86" r="1.05"/><circle cx="61.97" cy="151.89" r="1.05"/><circle cx="160.42" cy="110.23" r="1.05"/><circle cx="135.15" cy="107.58" r="1.05"/><circle cx="61.33" cy="146.44" r="1.05"/><circle cx="160.78" cy="141.62" r="1.05"/><circle cx="144.40" cy="108.19" r="1.05"/><circle cx="61.58" cy="142.66" r="1.05"/><circle cx="161.41" cy="108.17" r="1.05"/><circle cx="125.35" cy="107.82" r="1.05"/><circle cx="61.70" cy="147.92" r="1.05"/><circle cx="160.22" cy="109.41" r="1.05"/><circle cx="156.36" cy="108.32" r="1.05"/><circle cx="61.50" cy="160.33" r="1.05"/><circle cx="160.24" cy="168.21" r="1.05"/><circle cx="149.88" cy="107.43" r="1.05"/><circle cx="61.78" cy="163.87" r="1.05"/><circle cx="160.21" cy="141.27" r="1.05"/><circle cx="139.12" cy="107.44" r="1.05"/><circle cx="61.46" cy="140.86" r="1.05"/><circle cx="160.29" cy="158.54" r="1.05"/><circle cx="160.13" cy="108.09" r="1.05"/><circle cx="62.14" cy="163.43" r="1.05"/><circle cx="160.83" cy="118.14" r="1.05"/><circle cx="142.57" cy="107.62" r="1.05"/><circle cx="61.93" cy="143.10" r="1.05"/><circle cx="161.27" cy="162.45" r="1.05"/><circle cx="158.41" cy="108.43" r="1.05"/><circle cx="61.76" cy="173.86" r="1.05"/><circle cx="160.46" cy="140.84" r="1.05"/><circle cx="132.69" cy="108.27" r="1.05"/><circle cx="61.68" cy="153.98" r="1.05"/><circle cx="160.39" cy="111.97" r="1.05"/><circle cx="157.91" cy="108.50" r="1.05"/><circle cx="61.46" cy="171.21" r="1.05"/><circle cx="161.15" cy="115.05" r="1.05"/><circle cx="152.37" cy="108.34" r="1.05"/><circle cx="62.18" cy="146.17" r="1.05"/><circle cx="161.18" cy="134.01" r="1.05"/><circle cx="146.63" cy="108.34" r="1.05"/><circle cx="61.83" cy="159.15" r="1.05"/><circle cx="160.61" cy="165.80" r="1.05"/><circle cx="138.50" cy="108.16" r="1.05"/><circle cx="61.88" cy="155.44" r="1.05"/><circle cx="161.40" cy="111.25" r="1.05"/><circle cx="122.01" cy="108.09" r="1.05"/><circle cx="62.08" cy="153.81" r="1.05"/><circle cx="160.65" cy="149.69" r="1.05"/><circle cx="128.77" cy="108.43" r="1.05"/><circle cx="62.18" cy="170.60" r="1.05"/><circle cx="161.16" cy="127.25" r="1.05"/><circle cx="126.66" cy="107.60" r="1.05"/><circle cx="61.70" cy="150.48" r="1.05"/><circle cx="160.81" cy="133.86" r="1.05"/><circle cx="155.07" cy="107.59" r="1.05"/><circle cx="61.51" cy="163.59" r="1.05"/><circle cx="161.13" cy="138.74" r="1.05"/><circle cx="152.95" cy="107.53" r="1.05"/><circle cx="61.57" cy="158.25" r="1.05"/><circle cx="161.15" cy="134.08" r="1.05"/><circle cx="158.92" cy="107.83" r="1.05"/><circle cx="62.12" cy="159.01" r="1.05"/><circle cx="161.24" cy="142.59" r="1.05"/><circle cx="146.31" cy="107.50" r="1.05"/><circle cx="61.80" cy="151.82" r="1.05"/><circle cx="160.88" cy="136.72" r="1.05"/><circle cx="129.48" cy="108.39" r="1.05"/><circle cx="61.72" cy="141.08" r="1.05"/><circle cx="161.14" cy="166.93" r="1.05"/><circle cx="151.77" cy="108.32" r="1.05"/><circle cx="61.31" cy="141.75" r="1.05"/><circle cx="161.16" cy="129.05" r="1.05"/><circle cx="159.15" cy="108.33" r="1.05"/><circle cx="61.54" cy="144.07" r="1.05"/><circle cx="161.08" cy="120.53" r="1.05"/><circle cx="157.51" cy="108.21" r="1.05"/><circle cx="61.82" cy="143.71" r="1.05"/><circle cx="160.91" cy="152.83" r="1.05"/><circle cx="144.88" cy="107.91" r="1.05"/><circle cx="61.88" cy="173.62" r="1.05"/><circle cx="161.47" cy="121.99" r="1.05"/><circle cx="121.87" cy="108.25" r="1.05"/><circle cx="61.73" cy="160.42" r="1.05"/><circle cx="160.49" cy="170.26" r="1.05"/><circle cx="151.96" cy="107.92" r="1.05"/><circle cx="61.49" cy="162.15" r="1.05"/><circle cx="160.50" cy="115.81" r="1.05"/><circle cx="148.05" cy="107.42" r="1.05"/><circle cx="61.58" cy="172.97" r="1.05"/><circle cx="160.83" cy="116.44" r="1.05"/><circle cx="149.23" cy="107.66" r="1.05"/><circle cx="61.34" cy="140.63" r="1.05"/><circle cx="160.36" cy="144.86" r="1.05"/><circle cx="150.47" cy="107.63" r="1.05"/><circle cx="61.42" cy="150.10" r="1.05"/><circle cx="160.98" cy="148.75" r="1.05"/><circle cx="152.13" cy="108.21" r="1.05"/><circle cx="61.58" cy="145.97" r="1.05"/></g>
<line x1="61.80" y1="166.30" x2="152.35" y2="118.97" stroke="#f01a1a" stroke-width="2.20"/>
<polygon fill="#f01a1a" points="159.00,115.50 154.34,122.78 150.36,115.16"/>
<text x="82.90" y="197.60" font-size="14.00" font-weight="bold" fill="#000" text-anchor="start">GC rank</text>
<text x="-0.93" y="0" font-size="14.00" font-weight="bold" fill="#000" textLength="62.41" lengthAdjust="spacingAndGlyphs" transform="translate(31.90 162.20) rotate(-90)">ENC rank</text>
<text x="5.40" y="89.88" font-size="15.50" font-weight="bold" fill="#000" text-anchor="start">(a)</text>
<rect x="218.50" y="76.00" width="145.00" height="107.60" fill="#fff" stroke="#dadada" stroke-width="0.7"/>
<line x1="245.50" y1="92.00" x2="245.50" y2="173.40" stroke="#e3e3e3" stroke-width="0.60"/>
<line x1="272.05" y1="92.00" x2="272.05" y2="173.40" stroke="#e3e3e3" stroke-width="0.60"/>
<line x1="298.60" y1="92.00" x2="298.60" y2="173.40" stroke="#e3e3e3" stroke-width="0.60"/>
<line x1="325.15" y1="92.00" x2="325.15" y2="173.40" stroke="#e3e3e3" stroke-width="0.60"/>
<line x1="351.70" y1="92.00" x2="351.70" y2="173.40" stroke="#e3e3e3" stroke-width="0.60"/>
<line x1="245.50" y1="173.40" x2="351.70" y2="173.40" stroke="#e3e3e3" stroke-width="0.60"/>
<line x1="245.50" y1="159.88" x2="351.70" y2="159.88" stroke="#e3e3e3" stroke-width="0.60"/>
<line x1="245.50" y1="146.37" x2="351.70" y2="146.37" stroke="#e3e3e3" stroke-width="0.60"/>
<line x1="245.50" y1="132.86" x2="351.70" y2="132.86" stroke="#e3e3e3" stroke-width="0.60"/>
<line x1="245.50" y1="119.34" x2="351.70" y2="119.34" stroke="#e3e3e3" stroke-width="0.60"/>
<line x1="245.50" y1="105.83" x2="351.70" y2="105.83" stroke="#e3e3e3" stroke-width="0.60"/>
<line x1="245.50" y1="92.31" x2="351.70" y2="92.31" stroke="#e3e3e3" stroke-width="0.60"/>
<text x="221.91" y="85.50" font-size="7.30" font-weight="bold" fill="#595959" stroke="#595959" stroke-width="0.20" textLength="91.08" lengthAdjust="spacingAndGlyphs">Rice ENC rank vs GC rank</text>
<text x="315.96" y="81.00" font-size="4.60" font-weight="bold" fill="#595959" textLength="45.71" lengthAdjust="spacingAndGlyphs">y = -0.7677x + 25253</text>
<text x="326.29" y="86.90" font-size="4.60" font-weight="bold" fill="#595959" textLength="24.68" lengthAdjust="spacingAndGlyphs">R² = 0.5893</text>
<text x="241.80" y="175.13" font-size="4.80" font-weight="bold" fill="#595959" text-anchor="end" stroke="#595959" stroke-width="0.15">0.00</text>
<text x="241.80" y="161.61" font-size="4.80" font-weight="bold" fill="#595959" text-anchor="end" stroke="#595959" stroke-width="0.15">5000.00</text>
<text x="241.80" y="148.10" font-size="4.80" font-weight="bold" fill="#595959" text-anchor="end" stroke="#595959" stroke-width="0.15">10000.00</text>
<text x="241.80" y="134.58" font-size="4.80" font-weight="bold" fill="#595959" text-anchor="end" stroke="#595959" stroke-width="0.15">15000.00</text>
<text x="241.80" y="121.07" font-size="4.80" font-weight="bold" fill="#595959" text-anchor="end" stroke="#595959" stroke-width="0.15">20000.00</text>
<text x="241.80" y="107.55" font-size="4.80" font-weight="bold" fill="#595959" text-anchor="end" stroke="#595959" stroke-width="0.15">25000.00</text>
<text x="241.80" y="94.04" font-size="4.80" font-weight="bold" fill="#595959" text-anchor="end" stroke="#595959" stroke-width="0.15">30000.00</text>
<text x="245.50" y="180.60" font-size="4.40" font-weight="bold" fill="#595959" text-anchor="middle">0</text>
<text x="272.05" y="180.60" font-size="4.40" font-weight="bold" fill="#595959" text-anchor="middle">10000</text>
<text x="298.60" y="180.60" font-size="4.40" font-weight="bold" fill="#595959" text-anchor="middle">20000</text>
<text x="325.15" y="180.60" font-size="4.40" font-weight="bold" fill="#595959" text-anchor="middle">30000</text>
<text x="351.70" y="180.60" font-size="4.40" font-weight="bold" fill="#595959" text-anchor="middle">40000</text>
<polygon fill="#1b5f84" points="245.30,96.40 296.20,95.10 294.70,102.30 295.20,110.40 297.30,117.60 300.30,123.70 304.40,128.90 309.50,132.90 314.70,137.00 318.70,135.00 321.30,139.10 322.30,145.20 322.80,173.80 291.00,174.00 289.00,168.60 285.50,161.40 280.00,154.00 272.70,149.50 265.50,147.70 258.20,146.80 250.90,147.70 245.30,148.80"/>
<g fill="#fff"><circle cx="245.56" cy="133.56" r="0.7"/><circle cx="270.09" cy="96.12" r="0.7"/><circle cx="321.32" cy="159.70" r="0.7"/><circle cx="318.69" cy="141.53" r="0.7"/><circle cx="254.19" cy="97.10" r="0.7"/><circle cx="246.28" cy="119.12" r="0.7"/><circle cx="270.31" cy="96.22" r="0.7"/><circle cx="295.43" cy="98.32" r="0.7"/><circle cx="279.71" cy="152.86" r="0.7"/><circle cx="292.70" cy="106.11" r="0.7"/><circle cx="297.77" cy="121.75" r="0.7"/><circle cx="289.87" cy="169.87" r="0.7"/><circle cx="296.72" cy="116.10" r="0.7"/><circle cx="294.12" cy="172.91" r="0.7"/><circle cx="290.05" cy="95.65" r="0.7"/><circle cx="261.93" cy="96.06" r="0.7"/><circle cx="308.60" cy="133.34" r="0.7"/><circle cx="284.04" cy="158.97" r="0.7"/><circle cx="322.00" cy="158.14" r="0.7"/></g>
<g fill="#1b5f84"><circle cx="251.74" cy="148.10" r="1.00"/><circle cx="246.13" cy="152.42" r="1.00"/><circle cx="287.32" cy="167.37" r="1.00"/><circle cx="300.66" cy="97.52" r="1.00"/><circle cx="274.88" cy="163.25" r="1.00"/><circle cx="276.31" cy="171.09" r="1.00"/><circle cx="322.38" cy="148.88" r="1.00"/><circle cx="310.39" cy="130.24" r="1.00"/><circle cx="288.80" cy="168.27" r="1.00"/><circle cx="277.34" cy="154.29" r="1.00"/><circle cx="270.05" cy="159.16" r="1.00"/><circle cx="295.60" cy="104.87" r="1.00"/><circle cx="284.23" cy="169.25" r="1.00"/><circle cx="305.16" cy="118.93" r="1.00"/><circle cx="313.51" cy="131.01" r="1.00"/><circle cx="254.08" cy="147.90" r="1.00"/><circle cx="298.57" cy="118.82" r="1.00"/><circle cx="312.10" cy="134.82" r="1.00"/><circle cx="313.17" cy="131.83" r="1.00"/><circle cx="273.74" cy="150.38" r="1.00"/><circle cx="320.51" cy="134.32" r="1.00"/><circle cx="303.93" cy="126.55" r="1.00"/><circle cx="295.22" cy="106.34" r="1.00"/><circle cx="317.36" cy="134.50" r="1.00"/><circle cx="310.52" cy="133.12" r="1.00"/><circle cx="301.36" cy="121.34" r="1.00"/><circle cx="320.28" cy="136.20" r="1.00"/><circle cx="284.74" cy="160.71" r="1.00"/><circle cx="296.76" cy="98.23" r="1.00"/><circle cx="285.49" cy="164.70" r="1.00"/><circle cx="269.58" cy="149.80" r="1.00"/><circle cx="247.23" cy="149.66" r="1.00"/><circle cx="297.75" cy="113.56" r="1.00"/><circle cx="283.20" cy="161.64" r="1.00"/><circle cx="317.72" cy="133.31" r="1.00"/><circle cx="297.70" cy="101.56" r="1.00"/><circle cx="286.51" cy="168.52" r="1.00"/><circle cx="311.67" cy="134.36" r="1.00"/><circle cx="260.68" cy="149.66" r="1.00"/><circle cx="300.46" cy="113.48" r="1.00"/><circle cx="315.57" cy="129.78" r="1.00"/><circle cx="269.85" cy="151.98" r="1.00"/><circle cx="308.40" cy="127.80" r="1.00"/><circle cx="253.75" cy="149.29" r="1.00"/><circle cx="257.56" cy="148.37" r="1.00"/><circle cx="277.16" cy="158.58" r="1.00"/><circle cx="315.20" cy="95.60" r="1.00"/><circle cx="322.30" cy="120.00" r="1.00"/><circle cx="321.30" cy="126.00" r="1.00"/></g>
<line x1="245.30" y1="104.20" x2="315.87" y2="158.81" stroke="#f01a1a" stroke-width="2.20"/>
<polygon fill="#f01a1a" points="321.80,163.40 313.24,162.21 318.50,155.41"/>
<text x="263.10" y="197.60" font-size="14.00" font-weight="bold" fill="#000" text-anchor="start">GC rank</text>
<text x="-0.93" y="0" font-size="14.00" font-weight="bold" fill="#000" textLength="62.41" lengthAdjust="spacingAndGlyphs" transform="translate(214.60 162.20) rotate(-90)">ENC rank</text>
<text x="192.90" y="89.68" font-size="15.50" font-weight="bold" fill="#000" text-anchor="start">(b)</text>
<rect x="389.00" y="77.50" width="148.50" height="105.70" fill="#fff" stroke="#dadada" stroke-width="0.7"/>
<line x1="410.20" y1="98.50" x2="410.20" y2="173.60" stroke="#e3e3e3" stroke-width="0.60"/>
<line x1="427.23" y1="98.50" x2="427.23" y2="173.60" stroke="#e3e3e3" stroke-width="0.60"/>
<line x1="444.26" y1="98.50" x2="444.26" y2="173.60" stroke="#e3e3e3" stroke-width="0.60"/>
<line x1="461.29" y1="98.50" x2="461.29" y2="173.60" stroke="#e3e3e3" stroke-width="0.60"/>
<line x1="478.32" y1="98.50" x2="478.32" y2="173.60" stroke="#e3e3e3" stroke-width="0.60"/>
<line x1="495.35" y1="98.50" x2="495.35" y2="173.60" stroke="#e3e3e3" stroke-width="0.60"/>
<line x1="512.38" y1="98.50" x2="512.38" y2="173.60" stroke="#e3e3e3" stroke-width="0.60"/>
<line x1="529.41" y1="98.50" x2="529.41" y2="173.60" stroke="#e3e3e3" stroke-width="0.60"/>
<line x1="410.20" y1="173.60" x2="529.41" y2="173.60" stroke="#e3e3e3" stroke-width="0.60"/>
<line x1="410.20" y1="162.85" x2="529.41" y2="162.85" stroke="#e3e3e3" stroke-width="0.60"/>
<line x1="410.20" y1="152.10" x2="529.41" y2="152.10" stroke="#e3e3e3" stroke-width="0.60"/>
<line x1="410.20" y1="141.35" x2="529.41" y2="141.35" stroke="#e3e3e3" stroke-width="0.60"/>
<line x1="410.20" y1="130.60" x2="529.41" y2="130.60" stroke="#e3e3e3" stroke-width="0.60"/>
<line x1="410.20" y1="119.85" x2="529.41" y2="119.85" stroke="#e3e3e3" stroke-width="0.60"/>
<line x1="410.20" y1="109.10" x2="529.41" y2="109.10" stroke="#e3e3e3" stroke-width="0.60"/>
<line x1="410.20" y1="98.35" x2="529.41" y2="98.35" stroke="#e3e3e3" stroke-width="0.60"/>
<text x="393.82" y="86.70" font-size="6.90" font-weight="bold" fill="#595959" stroke="#595959" stroke-width="0.20" textLength="102.18" lengthAdjust="spacingAndGlyphs">S cerevisiae ENC rank vs GC rank</text>
<text x="434.78" y="94.40" font-size="6.60" font-weight="bold" fill="#595959" stroke="#595959" stroke-width="0.20" textLength="20.82" lengthAdjust="spacingAndGlyphs">scatter</text>
<text x="498.57" y="87.00" font-size="4.30" font-weight="bold" fill="#595959" textLength="36.59" lengthAdjust="spacingAndGlyphs">y = 0.0066x + 2993</text>
<text x="505.41" y="91.50" font-size="4.30" font-weight="bold" fill="#595959" textLength="22.46" lengthAdjust="spacingAndGlyphs">R² = 0.0000</text>
<text x="407.00" y="175.11" font-size="4.20" font-weight="bold" fill="#595959" text-anchor="end" stroke="#595959" stroke-width="0.15">0.00</text>
<text x="407.00" y="164.36" font-size="4.20" font-weight="bold" fill="#595959" text-anchor="end" stroke="#595959" stroke-width="0.15">1000.00</text>
<text x="407.00" y="153.61" font-size="4.20" font-weight="bold" fill="#595959" text-anchor="end" stroke="#595959" stroke-width="0.15">2000.00</text>
<text x="407.00" y="142.86" font-size="4.20" font-weight="bold" fill="#595959" text-anchor="end" stroke="#595959" stroke-width="0.15">3000.00</text>
<text x="407.00" y="132.11" font-size="4.20" font-weight="bold" fill="#595959" text-anchor="end" stroke="#595959" stroke-width="0.15">4000.00</text>
<text x="407.00" y="121.36" font-size="4.20" font-weight="bold" fill="#595959" text-anchor="end" stroke="#595959" stroke-width="0.15">5000.00</text>
<text x="407.00" y="110.61" font-size="4.20" font-weight="bold" fill="#595959" text-anchor="end" stroke="#595959" stroke-width="0.15">6000.00</text>
<text x="407.00" y="99.86" font-size="4.20" font-weight="bold" fill="#595959" text-anchor="end" stroke="#595959" stroke-width="0.15">7000.00</text>
<text x="410.20" y="179.80" font-size="4.20" font-weight="bold" fill="#595959" text-anchor="middle">0</text>
<text x="427.23" y="179.80" font-size="4.20" font-weight="bold" fill="#595959" text-anchor="middle">1000</text>
<text x="444.26" y="179.80" font-size="4.20" font-weight="bold" fill="#595959" text-anchor="middle">2000</text>
<text x="461.29" y="179.80" font-size="4.20" font-weight="bold" fill="#595959" text-anchor="middle">3000</text>
<text x="478.32" y="179.80" font-size="4.20" font-weight="bold" fill="#595959" text-anchor="middle">4000</text>
<text x="495.35" y="179.80" font-size="4.20" font-weight="bold" fill="#595959" text-anchor="middle">5000</text>
<text x="512.38" y="179.80" font-size="4.20" font-weight="bold" fill="#595959" text-anchor="middle">6000</text>
<text x="529.41" y="179.80" font-size="4.20" font-weight="bold" fill="#595959" text-anchor="middle">7000</text>
<rect x="409.90" y="109.10" width="102.78" height="65.00" fill="#1b5f84"/>
<g fill="#e9f1f5"><circle cx="425.90" cy="137.86" r="0.43"/><circle cx="500.06" cy="129.07" r="0.67"/><circle cx="471.30" cy="125.24" r="0.55"/><circle cx="433.39" cy="166.04" r="0.36"/><circle cx="467.99" cy="110.22" r="0.36"/><circle cx="438.53" cy="118.08" r="0.55"/><circle cx="445.61" cy="143.77" r="0.49"/><circle cx="472.74" cy="157.90" r="0.60"/><circle cx="424.50" cy="168.47" r="0.64"/><circle cx="441.80" cy="137.86" r="0.57"/><circle cx="487.04" cy="161.54" r="0.77"/><circle cx="500.93" cy="155.05" r="0.82"/><circle cx="480.32" cy="131.79" r="0.40"/><circle cx="507.00" cy="141.54" r="0.72"/><circle cx="466.43" cy="147.36" r="0.40"/><circle cx="498.07" cy="129.70" r="0.37"/><circle cx="498.39" cy="131.60" r="0.43"/><circle cx="489.38" cy="126.46" r="0.54"/><circle cx="438.70" cy="133.67" r="0.61"/><circle cx="424.69" cy="120.30" r="0.36"/><circle cx="447.85" cy="119.62" r="0.63"/><circle cx="481.15" cy="140.29" r="0.80"/><circle cx="458.61" cy="116.34" r="0.60"/><circle cx="465.51" cy="117.58" r="0.64"/><circle cx="492.16" cy="159.25" r="0.42"/><circle cx="487.56" cy="158.50" r="0.54"/><circle cx="465.75" cy="110.18" r="0.35"/><circle cx="483.46" cy="169.05" r="0.64"/><circle cx="475.61" cy="139.01" r="0.66"/><circle cx="507.39" cy="171.11" r="0.56"/><circle cx="503.94" cy="151.55" r="0.91"/><circle cx="507.15" cy="133.59" r="0.52"/><circle cx="500.92" cy="170.29" r="0.76"/><circle cx="492.27" cy="114.53" r="0.45"/><circle cx="506.57" cy="166.52" r="0.52"/><circle cx="451.88" cy="160.22" r="0.57"/><circle cx="491.42" cy="150.90" r="0.78"/><circle cx="490.13" cy="130.78" r="0.72"/><circle cx="455.52" cy="126.01" r="0.42"/><circle cx="437.99" cy="143.82" r="0.73"/><circle cx="424.54" cy="153.75" r="0.62"/><circle cx="507.52" cy="126.83" r="0.71"/><circle cx="473.48" cy="113.78" r="0.76"/><circle cx="483.88" cy="110.08" r="0.48"/><circle cx="460.65" cy="147.01" r="0.43"/><circle cx="482.51" cy="110.14" r="0.56"/><circle cx="473.24" cy="142.34" r="0.63"/><circle cx="489.86" cy="122.01" r="0.59"/><circle cx="431.70" cy="169.80" r="0.48"/><circle cx="461.22" cy="151.89" r="0.51"/><circle cx="501.96" cy="113.31" r="0.64"/><circle cx="437.01" cy="144.75" r="0.59"/><circle cx="446.38" cy="155.88" r="0.62"/><circle cx="499.75" cy="131.41" r="0.82"/><circle cx="490.56" cy="127.88" r="0.39"/><circle cx="510.61" cy="117.91" r="0.70"/><circle cx="507.54" cy="164.07" r="0.56"/><circle cx="470.23" cy="116.27" r="0.63"/><circle cx="426.02" cy="138.27" r="0.42"/><circle cx="489.98" cy="112.31" r="0.58"/><circle cx="441.63" cy="110.03" r="0.44"/><circle cx="498.43" cy="145.64" r="0.53"/><circle cx="447.18" cy="113.65" r="0.63"/><circle cx="505.34" cy="162.46" r="0.84"/><circle cx="474.11" cy="137.04" r="0.67"/><circle cx="473.99" cy="147.66" r="0.59"/><circle cx="477.93" cy="120.39" r="0.53"/><circle cx="496.90" cy="162.83" r="0.36"/><circle cx="508.31" cy="134.20" r="0.58"/><circle cx="508.70" cy="158.99" r="0.47"/><circle cx="494.61" cy="139.88" r="0.48"/><circle cx="511.76" cy="166.57" r="0.53"/><circle cx="494.43" cy="154.56" r="0.83"/><circle cx="439.00" cy="145.84" r="0.68"/><circle cx="416.51" cy="159.50" r="0.36"/><circle cx="424.58" cy="122.61" r="0.52"/><circle cx="504.93" cy="113.11" r="0.76"/><circle cx="479.10" cy="166.90" r="0.74"/><circle cx="415.96" cy="154.30" r="0.65"/><circle cx="461.69" cy="134.70" r="0.54"/><circle cx="504.04" cy="169.59" r="0.56"/><circle cx="494.09" cy="131.12" r="0.60"/><circle cx="451.36" cy="144.69" r="0.69"/><circle cx="509.70" cy="145.77" r="0.92"/><circle cx="464.97" cy="124.67" r="0.57"/><circle cx="446.10" cy="111.85" r="0.70"/><circle cx="498.96" cy="140.76" r="0.66"/><circle cx="482.93" cy="132.45" r="0.51"/><circle cx="475.21" cy="142.56" r="0.52"/><circle cx="427.06" cy="113.13" r="0.62"/><circle cx="459.17" cy="109.91" r="0.38"/><circle cx="508.78" cy="124.87" r="0.36"/><circle cx="457.59" cy="153.35" r="0.52"/><circle cx="505.48" cy="157.97" r="0.56"/><circle cx="507.87" cy="157.77" r="0.41"/><circle cx="484.39" cy="168.40" r="0.70"/><circle cx="423.55" cy="147.50" r="0.51"/><circle cx="507.66" cy="164.92" r="0.68"/><circle cx="500.60" cy="131.51" r="0.78"/><circle cx="485.54" cy="145.55" r="0.41"/><circle cx="426.56" cy="156.75" r="0.41"/><circle cx="478.27" cy="145.97" r="0.67"/><circle cx="430.70" cy="128.00" r="0.41"/><circle cx="474.23" cy="161.71" r="0.72"/><circle cx="474.57" cy="143.51" r="0.62"/><circle cx="484.52" cy="134.79" r="0.61"/><circle cx="455.55" cy="152.61" r="0.73"/><circle cx="495.06" cy="128.09" r="0.71"/><circle cx="497.15" cy="132.34" r="0.38"/><circle cx="491.85" cy="119.39" r="0.70"/><circle cx="483.12" cy="134.97" r="0.73"/><circle cx="492.44" cy="137.43" r="0.64"/><circle cx="509.20" cy="170.24" r="0.52"/><circle cx="483.02" cy="171.71" r="0.72"/><circle cx="494.10" cy="170.07" r="0.67"/><circle cx="477.39" cy="128.05" r="0.76"/><circle cx="497.05" cy="152.07" r="0.66"/><circle cx="440.50" cy="114.88" r="0.73"/><circle cx="493.86" cy="141.05" r="0.64"/><circle cx="480.77" cy="172.02" r="0.69"/><circle cx="510.70" cy="124.91" r="0.90"/><circle cx="464.01" cy="163.41" r="0.69"/><circle cx="496.82" cy="138.50" r="0.74"/><circle cx="483.31" cy="118.80" r="0.51"/><circle cx="488.45" cy="161.24" r="0.36"/><circle cx="414.12" cy="164.38" r="0.41"/><circle cx="498.75" cy="129.33" r="0.63"/><circle cx="458.15" cy="125.56" r="0.49"/><circle cx="490.81" cy="150.72" r="0.86"/><circle cx="461.53" cy="134.69" r="0.54"/><circle cx="470.22" cy="120.74" r="0.55"/><circle cx="473.36" cy="158.79" r="0.82"/><circle cx="502.87" cy="145.06" r="0.69"/><circle cx="493.91" cy="136.61" r="0.69"/><circle cx="418.09" cy="114.24" r="0.42"/><circle cx="450.70" cy="165.03" r="0.48"/><circle cx="506.55" cy="111.60" r="0.60"/><circle cx="442.07" cy="132.99" r="0.71"/><circle cx="507.65" cy="117.35" r="0.69"/><circle cx="482.51" cy="153.65" r="0.60"/><circle cx="433.29" cy="116.80" r="0.48"/><circle cx="510.44" cy="120.07" r="0.71"/><circle cx="469.81" cy="128.05" r="0.49"/><circle cx="472.26" cy="145.00" r="0.72"/><circle cx="433.16" cy="119.51" r="0.47"/><circle cx="416.36" cy="148.96" r="0.42"/><circle cx="505.59" cy="116.66" r="0.83"/><circle cx="420.34" cy="171.54" r="0.43"/><circle cx="504.39" cy="118.02" r="0.55"/><circle cx="452.33" cy="145.97" r="0.60"/><circle cx="468.17" cy="146.48" r="0.78"/><circle cx="475.46" cy="117.78" r="0.46"/><circle cx="470.29" cy="110.33" r="0.82"/><circle cx="492.40" cy="145.96" r="0.82"/><circle cx="432.22" cy="127.40" r="0.42"/><circle cx="482.71" cy="143.76" r="0.58"/><circle cx="447.74" cy="138.01" r="0.55"/><circle cx="448.05" cy="139.76" r="0.57"/><circle cx="486.33" cy="151.38" r="0.50"/><circle cx="451.61" cy="139.66" r="0.47"/><circle cx="413.39" cy="123.62" r="0.42"/><circle cx="498.58" cy="111.70" r="0.85"/><circle cx="415.88" cy="120.45" r="0.36"/><circle cx="470.78" cy="142.09" r="0.47"/><circle cx="471.45" cy="114.89" r="0.77"/><circle cx="454.22" cy="121.34" r="0.50"/><circle cx="473.75" cy="119.21" r="0.53"/><circle cx="472.36" cy="161.48" r="0.68"/><circle cx="414.96" cy="128.00" r="0.41"/><circle cx="471.78" cy="121.36" r="0.66"/><circle cx="509.60" cy="131.24" r="0.80"/><circle cx="458.60" cy="150.58" r="0.38"/><circle cx="451.94" cy="169.20" r="0.61"/><circle cx="477.13" cy="129.01" r="0.68"/><circle cx="479.86" cy="133.16" r="0.66"/><circle cx="434.08" cy="125.34" r="0.54"/><circle cx="422.39" cy="116.44" r="0.43"/><circle cx="511.68" cy="123.22" r="0.36"/><circle cx="492.97" cy="134.75" r="0.43"/><circle cx="440.44" cy="120.62" r="0.57"/><circle cx="508.13" cy="159.42" r="0.50"/><circle cx="493.69" cy="167.00" r="0.44"/><circle cx="419.24" cy="115.40" r="0.63"/><circle cx="468.26" cy="118.77" r="0.48"/><circle cx="510.91" cy="115.39" r="0.65"/><circle cx="433.72" cy="134.08" r="0.43"/><circle cx="484.62" cy="138.58" r="0.71"/><circle cx="445.83" cy="125.36" r="0.49"/><circle cx="480.51" cy="124.10" r="0.51"/><circle cx="506.85" cy="157.35" r="0.76"/><circle cx="494.20" cy="118.58" r="0.72"/><circle cx="463.97" cy="171.62" r="0.44"/><circle cx="505.65" cy="113.41" r="0.39"/><circle cx="478.70" cy="140.27" r="0.74"/><circle cx="510.16" cy="157.31" r="0.93"/><circle cx="426.51" cy="147.79" r="0.67"/><circle cx="436.23" cy="134.67" r="0.50"/><circle cx="470.93" cy="126.22" r="0.46"/><circle cx="506.42" cy="111.11" r="0.51"/><circle cx="480.02" cy="137.93" r="0.76"/><circle cx="473.36" cy="149.68" r="0.64"/><circle cx="476.30" cy="144.98" r="0.62"/><circle cx="497.46" cy="170.12" r="0.44"/><circle cx="479.79" cy="128.53" r="0.67"/><circle cx="454.98" cy="159.69" r="0.69"/><circle cx="510.63" cy="145.87" r="0.57"/><circle cx="487.84" cy="121.55" r="0.70"/><circle cx="486.86" cy="160.48" r="0.44"/><circle cx="483.47" cy="124.89" r="0.60"/><circle cx="477.53" cy="123.46" r="0.67"/><circle cx="509.54" cy="114.87" r="0.56"/><circle cx="468.42" cy="135.08" r="0.72"/><circle cx="510.61" cy="119.22" r="0.35"/><circle cx="472.41" cy="120.36" r="0.43"/><circle cx="506.42" cy="116.38" r="0.86"/><circle cx="416.50" cy="164.99" r="0.52"/><circle cx="473.26" cy="156.69" r="0.37"/><circle cx="496.60" cy="113.62" r="0.70"/><circle cx="466.23" cy="155.39" r="0.75"/><circle cx="497.06" cy="155.67" r="0.81"/><circle cx="505.95" cy="114.48" r="0.75"/><circle cx="504.99" cy="133.85" r="0.72"/><circle cx="509.57" cy="125.96" r="0.61"/><circle cx="414.15" cy="127.45" r="0.47"/><circle cx="472.31" cy="141.12" r="0.35"/><circle cx="445.24" cy="129.23" r="0.45"/><circle cx="474.20" cy="166.33" r="0.45"/><circle cx="502.31" cy="172.16" r="0.88"/><circle cx="499.31" cy="153.59" r="0.85"/><circle cx="469.16" cy="125.73" r="0.65"/><circle cx="467.09" cy="115.25" r="0.43"/><circle cx="504.27" cy="127.11" r="0.77"/><circle cx="477.55" cy="111.76" r="0.54"/><circle cx="489.48" cy="135.60" r="0.85"/><circle cx="504.55" cy="157.94" r="0.89"/><circle cx="500.80" cy="130.82" r="0.63"/><circle cx="510.40" cy="158.27" r="0.42"/><circle cx="447.21" cy="168.72" r="0.55"/><circle cx="502.78" cy="120.52" r="0.70"/><circle cx="511.87" cy="146.64" r="0.89"/><circle cx="478.85" cy="158.99" r="0.43"/><circle cx="505.96" cy="123.17" r="0.43"/><circle cx="476.61" cy="164.25" r="0.75"/><circle cx="477.44" cy="128.41" r="0.70"/><circle cx="457.03" cy="116.36" r="0.48"/><circle cx="421.41" cy="119.30" r="0.48"/><circle cx="508.45" cy="124.86" r="0.40"/><circle cx="500.83" cy="138.74" r="0.77"/><circle cx="455.56" cy="111.17" r="0.36"/><circle cx="485.58" cy="131.67" r="0.51"/><circle cx="431.30" cy="122.76" r="0.45"/><circle cx="507.65" cy="115.30" r="0.91"/><circle cx="511.60" cy="163.33" r="0.68"/><circle cx="464.81" cy="118.44" r="0.52"/><circle cx="458.54" cy="122.49" r="0.45"/><circle cx="465.42" cy="118.15" r="0.52"/><circle cx="431.34" cy="135.78" r="0.54"/><circle cx="485.64" cy="170.66" r="0.72"/><circle cx="499.58" cy="169.03" r="0.69"/><circle cx="452.71" cy="117.52" r="0.68"/><circle cx="446.05" cy="128.72" r="0.70"/><circle cx="497.26" cy="149.49" r="0.69"/><circle cx="435.42" cy="130.01" r="0.64"/><circle cx="433.81" cy="145.89" r="0.42"/><circle cx="489.58" cy="109.95" r="0.49"/><circle cx="488.45" cy="125.89" r="0.60"/><circle cx="500.63" cy="112.99" r="0.39"/><circle cx="503.38" cy="163.13" r="0.91"/><circle cx="496.47" cy="132.08" r="0.74"/><circle cx="491.46" cy="149.76" r="0.45"/><circle cx="500.46" cy="142.57" r="0.53"/><circle cx="456.35" cy="156.27" r="0.43"/><circle cx="478.30" cy="165.91" r="0.37"/><circle cx="500.44" cy="117.78" r="0.35"/><circle cx="503.46" cy="135.93" r="0.80"/><circle cx="510.54" cy="137.23" r="0.94"/><circle cx="441.27" cy="132.91" r="0.59"/><circle cx="480.76" cy="154.91" r="0.61"/><circle cx="483.13" cy="116.64" r="0.35"/><circle cx="507.81" cy="151.25" r="0.69"/><circle cx="460.17" cy="120.65" r="0.53"/><circle cx="500.31" cy="158.75" r="0.46"/><circle cx="474.02" cy="170.13" r="0.46"/><circle cx="418.77" cy="169.01" r="0.41"/><circle cx="471.49" cy="129.30" r="0.56"/><circle cx="455.40" cy="139.11" r="0.52"/><circle cx="431.30" cy="120.63" r="0.54"/><circle cx="499.79" cy="168.46" r="0.60"/><circle cx="491.13" cy="115.63" r="0.61"/><circle cx="449.18" cy="135.54" r="0.66"/><circle cx="440.58" cy="113.69" r="0.36"/><circle cx="501.82" cy="128.67" r="0.86"/><circle cx="427.77" cy="132.60" r="0.56"/><circle cx="504.85" cy="117.99" r="0.86"/><circle cx="481.83" cy="110.82" r="0.78"/><circle cx="501.80" cy="121.26" r="0.90"/><circle cx="498.27" cy="124.93" r="0.73"/><circle cx="490.38" cy="118.26" r="0.78"/><circle cx="468.38" cy="121.97" r="0.46"/><circle cx="505.89" cy="113.34" r="0.59"/><circle cx="511.47" cy="166.17" r="0.92"/><circle cx="500.61" cy="144.54" r="0.75"/><circle cx="487.31" cy="144.44" r="0.43"/><circle cx="469.56" cy="161.27" r="0.52"/><circle cx="443.87" cy="139.04" r="0.56"/><circle cx="457.96" cy="170.46" r="0.49"/><circle cx="422.55" cy="131.70" r="0.49"/><circle cx="461.72" cy="159.56" r="0.79"/><circle cx="503.75" cy="115.94" r="0.62"/><circle cx="431.23" cy="121.99" r="0.62"/><circle cx="498.46" cy="131.22" r="0.52"/><circle cx="482.84" cy="162.29" r="0.62"/><circle cx="436.94" cy="139.83" r="0.64"/><circle cx="480.75" cy="144.90" r="0.46"/><circle cx="497.10" cy="161.74" r="0.77"/><circle cx="461.74" cy="150.79" r="0.36"/><circle cx="455.79" cy="157.14" r="0.63"/><circle cx="450.99" cy="156.68" r="0.67"/><circle cx="445.06" cy="162.98" r="0.40"/><circle cx="510.60" cy="136.85" r="0.80"/><circle cx="442.72" cy="139.08" r="0.44"/><circle cx="490.96" cy="127.42" r="0.38"/><circle cx="476.87" cy="136.57" r="0.60"/><circle cx="478.12" cy="147.25" r="0.63"/><circle cx="449.56" cy="118.60" r="0.65"/><circle cx="440.34" cy="141.20" r="0.74"/><circle cx="415.95" cy="163.88" r="0.46"/><circle cx="489.95" cy="142.61" r="0.36"/><circle cx="453.20" cy="162.32" r="0.67"/><circle cx="478.83" cy="125.22" r="0.54"/><circle cx="464.71" cy="146.82" r="0.51"/><circle cx="453.07" cy="155.13" r="0.35"/><circle cx="505.42" cy="144.18" r="0.87"/><circle cx="468.69" cy="125.69" r="0.39"/><circle cx="509.98" cy="163.51" r="0.57"/><circle cx="504.17" cy="157.80" r="0.58"/><circle cx="511.87" cy="166.35" r="0.94"/><circle cx="505.17" cy="126.88" r="0.79"/><circle cx="461.03" cy="115.73" r="0.50"/><circle cx="511.66" cy="121.71" r="0.47"/><circle cx="489.17" cy="130.14" r="0.47"/><circle cx="485.05" cy="116.25" r="0.56"/><circle cx="466.29" cy="152.86" r="0.67"/><circle cx="428.71" cy="171.49" r="0.66"/><circle cx="461.96" cy="130.12" r="0.38"/><circle cx="434.65" cy="158.45" r="0.63"/><circle cx="508.22" cy="111.77" r="0.83"/><circle cx="478.52" cy="135.50" r="0.66"/><circle cx="417.30" cy="145.02" r="0.65"/><circle cx="456.53" cy="143.76" r="0.53"/><circle cx="475.70" cy="115.69" r="0.54"/><circle cx="481.56" cy="117.31" r="0.53"/><circle cx="508.24" cy="153.28" r="0.68"/><circle cx="487.34" cy="114.93" r="0.84"/><circle cx="445.18" cy="136.11" r="0.75"/><circle cx="487.24" cy="145.70" r="0.66"/><circle cx="475.92" cy="141.20" r="0.64"/><circle cx="440.87" cy="112.06" r="0.44"/><circle cx="433.10" cy="118.01" r="0.71"/><circle cx="444.46" cy="153.41" r="0.50"/><circle cx="480.02" cy="135.44" r="0.72"/><circle cx="417.40" cy="150.70" r="0.67"/><circle cx="488.28" cy="164.67" r="0.74"/><circle cx="490.33" cy="125.97" r="0.51"/><circle cx="427.44" cy="134.19" r="0.67"/><circle cx="461.67" cy="133.51" r="0.43"/><circle cx="503.09" cy="159.94" r="0.64"/><circle cx="475.70" cy="135.15" r="0.69"/><circle cx="509.92" cy="152.97" r="0.70"/><circle cx="459.84" cy="111.46" r="0.70"/><circle cx="457.96" cy="138.73" r="0.46"/><circle cx="470.60" cy="124.48" r="0.58"/><circle cx="508.65" cy="165.40" r="0.57"/><circle cx="477.58" cy="137.19" r="0.77"/><circle cx="441.56" cy="139.27" r="0.51"/><circle cx="505.48" cy="169.94" r="0.52"/><circle cx="413.72" cy="164.73" r="0.37"/><circle cx="423.32" cy="116.20" r="0.42"/><circle cx="483.34" cy="155.22" r="0.66"/><circle cx="498.54" cy="169.32" r="0.62"/><circle cx="464.45" cy="134.88" r="0.79"/><circle cx="420.29" cy="134.16" r="0.46"/><circle cx="507.08" cy="140.98" r="0.39"/><circle cx="457.57" cy="163.63" r="0.73"/><circle cx="417.37" cy="147.43" r="0.61"/><circle cx="463.95" cy="142.65" r="0.44"/><circle cx="421.29" cy="162.14" r="0.63"/><circle cx="493.47" cy="147.98" r="0.39"/><circle cx="476.14" cy="148.95" r="0.41"/><circle cx="502.59" cy="157.83" r="0.50"/><circle cx="501.14" cy="138.26" r="0.88"/><circle cx="497.29" cy="134.69" r="0.64"/><circle cx="433.43" cy="117.10" r="0.63"/><circle cx="422.37" cy="149.62" r="0.53"/><circle cx="497.05" cy="116.14" r="0.82"/><circle cx="498.79" cy="168.59" r="0.43"/><circle cx="437.04" cy="166.54" r="0.58"/><circle cx="503.47" cy="131.68" r="0.64"/><circle cx="441.96" cy="140.17" r="0.48"/><circle cx="493.81" cy="163.38" r="0.82"/><circle cx="472.76" cy="164.04" r="0.48"/><circle cx="477.14" cy="148.33" r="0.48"/><circle cx="503.10" cy="114.48" r="0.44"/><circle cx="453.23" cy="164.71" r="0.50"/><circle cx="445.72" cy="157.40" r="0.43"/><circle cx="501.32" cy="158.80" r="0.54"/><circle cx="475.36" cy="140.39" r="0.42"/><circle cx="468.68" cy="121.63" r="0.53"/><circle cx="444.32" cy="155.74" r="0.65"/><circle cx="437.45" cy="110.46" r="0.64"/><circle cx="496.79" cy="168.58" r="0.76"/><circle cx="482.49" cy="160.43" r="0.46"/><circle cx="484.24" cy="164.63" r="0.79"/><circle cx="420.76" cy="141.77" r="0.46"/><circle cx="454.48" cy="166.81" r="0.43"/><circle cx="428.27" cy="157.73" r="0.47"/><circle cx="432.23" cy="126.86" r="0.55"/><circle cx="467.22" cy="147.92" r="0.71"/><circle cx="479.45" cy="142.09" r="0.38"/></g>
<g fill="#1b5f84"><circle cx="511.97" cy="109.66" r="0.70"/><circle cx="410.00" cy="115.93" r="0.70"/><circle cx="512.64" cy="165.29" r="0.70"/><circle cx="442.49" cy="109.49" r="0.70"/><circle cx="410.20" cy="116.24" r="0.70"/><circle cx="512.83" cy="130.99" r="0.70"/><circle cx="481.04" cy="108.89" r="0.70"/><circle cx="410.35" cy="120.89" r="0.70"/><circle cx="511.87" cy="124.56" r="0.70"/><circle cx="413.89" cy="108.97" r="0.70"/><circle cx="409.84" cy="162.37" r="0.70"/><circle cx="512.27" cy="153.80" r="0.70"/><circle cx="502.84" cy="109.17" r="0.70"/><circle cx="410.50" cy="147.76" r="0.70"/><circle cx="511.84" cy="136.74" r="0.70"/><circle cx="476.95" cy="108.95" r="0.70"/><circle cx="410.25" cy="141.15" r="0.70"/><circle cx="512.32" cy="116.92" r="0.70"/><circle cx="460.34" cy="109.07" r="0.70"/><circle cx="410.21" cy="119.33" r="0.70"/><circle cx="512.65" cy="141.03" r="0.70"/><circle cx="443.83" cy="109.65" r="0.70"/><circle cx="410.14" cy="161.61" r="0.70"/><circle cx="512.64" cy="129.64" r="0.70"/><circle cx="447.67" cy="108.90" r="0.70"/><circle cx="409.95" cy="123.14" r="0.70"/><circle cx="512.87" cy="134.77" r="0.70"/><circle cx="469.68" cy="109.49" r="0.70"/><circle cx="410.74" cy="163.79" r="0.70"/><circle cx="512.78" cy="134.53" r="0.70"/><circle cx="492.84" cy="109.56" r="0.70"/><circle cx="410.14" cy="114.63" r="0.70"/><circle cx="511.87" cy="167.00" r="0.70"/><circle cx="435.45" cy="108.95" r="0.70"/><circle cx="410.70" cy="115.74" r="0.70"/><circle cx="512.41" cy="159.38" r="0.70"/><circle cx="501.49" cy="109.07" r="0.70"/><circle cx="409.76" cy="127.55" r="0.70"/><circle cx="512.33" cy="167.41" r="0.70"/><circle cx="442.57" cy="109.33" r="0.70"/><circle cx="409.64" cy="162.44" r="0.70"/><circle cx="512.25" cy="169.58" r="0.70"/><circle cx="467.39" cy="109.51" r="0.70"/><circle cx="409.86" cy="127.96" r="0.70"/><circle cx="512.12" cy="159.47" r="0.70"/><circle cx="446.54" cy="109.64" r="0.70"/><circle cx="410.78" cy="139.60" r="0.70"/><circle cx="512.33" cy="131.95" r="0.70"/><circle cx="428.68" cy="109.06" r="0.70"/><circle cx="410.57" cy="133.03" r="0.70"/><circle cx="512.65" cy="168.83" r="0.70"/><circle cx="455.77" cy="109.15" r="0.70"/><circle cx="410.29" cy="110.38" r="0.70"/><circle cx="512.18" cy="170.09" r="0.70"/><circle cx="421.28" cy="109.44" r="0.70"/><circle cx="410.68" cy="116.13" r="0.70"/><circle cx="512.50" cy="113.92" r="0.70"/><circle cx="475.64" cy="109.31" r="0.70"/><circle cx="409.81" cy="157.17" r="0.70"/><circle cx="512.62" cy="133.58" r="0.70"/><circle cx="480.24" cy="109.61" r="0.70"/><circle cx="409.67" cy="125.27" r="0.70"/><circle cx="512.66" cy="141.52" r="0.70"/><circle cx="495.38" cy="109.47" r="0.70"/><circle cx="410.06" cy="145.19" r="0.70"/><circle cx="512.22" cy="120.04" r="0.70"/><circle cx="423.32" cy="109.31" r="0.70"/><circle cx="410.32" cy="131.15" r="0.70"/><circle cx="512.42" cy="146.02" r="0.70"/><circle cx="452.31" cy="109.23" r="0.70"/><circle cx="409.76" cy="126.29" r="0.70"/><circle cx="511.99" cy="149.92" r="0.70"/><circle cx="464.26" cy="108.81" r="0.70"/><circle cx="410.31" cy="132.54" r="0.70"/><circle cx="512.82" cy="170.85" r="0.70"/><circle cx="503.76" cy="109.26" r="0.70"/><circle cx="409.79" cy="152.69" r="0.70"/><circle cx="512.66" cy="165.09" r="0.70"/><circle cx="486.25" cy="109.69" r="0.70"/><circle cx="410.75" cy="149.87" r="0.70"/><circle cx="512.88" cy="117.97" r="0.70"/><circle cx="426.93" cy="109.62" r="0.70"/><circle cx="410.42" cy="155.24" r="0.70"/><circle cx="512.08" cy="149.83" r="0.70"/><circle cx="510.62" cy="109.04" r="0.70"/><circle cx="409.72" cy="141.73" r="0.70"/><circle cx="512.04" cy="162.53" r="0.70"/><circle cx="417.37" cy="108.83" r="0.70"/><circle cx="410.67" cy="110.55" r="0.70"/><circle cx="511.87" cy="116.44" r="0.70"/><circle cx="417.05" cy="108.92" r="0.70"/><circle cx="409.62" cy="148.44" r="0.70"/><circle cx="512.93" cy="137.61" r="0.70"/><circle cx="454.27" cy="108.93" r="0.70"/><circle cx="410.56" cy="140.74" r="0.70"/><circle cx="512.00" cy="162.20" r="0.70"/><circle cx="434.38" cy="109.54" r="0.70"/><circle cx="410.77" cy="143.60" r="0.70"/><circle cx="511.90" cy="141.93" r="0.70"/><circle cx="502.25" cy="109.48" r="0.70"/><circle cx="409.61" cy="162.79" r="0.70"/><circle cx="511.98" cy="139.72" r="0.70"/><circle cx="423.83" cy="109.34" r="0.70"/><circle cx="409.91" cy="167.83" r="0.70"/><circle cx="512.31" cy="166.91" r="0.70"/><circle cx="440.30" cy="109.58" r="0.70"/><circle cx="409.87" cy="150.75" r="0.70"/><circle cx="511.89" cy="154.18" r="0.70"/><circle cx="441.88" cy="109.01" r="0.70"/><circle cx="410.00" cy="128.21" r="0.70"/><circle cx="511.96" cy="127.27" r="0.70"/><circle cx="421.11" cy="109.50" r="0.70"/><circle cx="409.61" cy="172.11" r="0.70"/><circle cx="511.82" cy="164.10" r="0.70"/><circle cx="437.96" cy="109.00" r="0.70"/><circle cx="409.85" cy="139.54" r="0.70"/><circle cx="512.51" cy="154.00" r="0.70"/><circle cx="472.66" cy="109.24" r="0.70"/><circle cx="409.78" cy="158.80" r="0.70"/><circle cx="512.63" cy="114.41" r="0.70"/><circle cx="438.28" cy="109.33" r="0.70"/><circle cx="410.62" cy="165.07" r="0.70"/><circle cx="511.97" cy="128.20" r="0.70"/><circle cx="426.69" cy="109.60" r="0.70"/><circle cx="410.07" cy="117.41" r="0.70"/><circle cx="512.57" cy="125.79" r="0.70"/><circle cx="448.94" cy="109.25" r="0.70"/><circle cx="410.06" cy="152.67" r="0.70"/><circle cx="512.15" cy="135.45" r="0.70"/><circle cx="455.52" cy="109.06" r="0.70"/><circle cx="410.34" cy="118.20" r="0.70"/><circle cx="512.07" cy="121.02" r="0.70"/><circle cx="446.52" cy="109.42" r="0.70"/><circle cx="409.99" cy="150.55" r="0.70"/><circle cx="511.96" cy="161.51" r="0.70"/><circle cx="483.09" cy="109.22" r="0.70"/><circle cx="409.74" cy="149.95" r="0.70"/><circle cx="512.91" cy="110.36" r="0.70"/><circle cx="415.06" cy="109.52" r="0.70"/><circle cx="409.62" cy="162.88" r="0.70"/><circle cx="512.50" cy="154.83" r="0.70"/><circle cx="473.52" cy="109.37" r="0.70"/><circle cx="409.70" cy="110.75" r="0.70"/><circle cx="512.92" cy="138.05" r="0.70"/><circle cx="467.33" cy="109.58" r="0.70"/><circle cx="409.80" cy="162.37" r="0.70"/><circle cx="512.71" cy="159.10" r="0.70"/><circle cx="453.16" cy="109.36" r="0.70"/><circle cx="410.03" cy="135.86" r="0.70"/><circle cx="511.94" cy="168.35" r="0.70"/><circle cx="485.01" cy="109.28" r="0.70"/><circle cx="410.58" cy="127.82" r="0.70"/><circle cx="512.93" cy="112.25" r="0.70"/><circle cx="432.80" cy="108.96" r="0.70"/><circle cx="410.08" cy="133.46" r="0.70"/><circle cx="511.84" cy="134.15" r="0.70"/><circle cx="418.07" cy="109.03" r="0.70"/><circle cx="410.54" cy="145.96" r="0.70"/><circle cx="512.93" cy="147.93" r="0.70"/><circle cx="479.37" cy="109.47" r="0.70"/><circle cx="410.52" cy="116.24" r="0.70"/><circle cx="512.69" cy="117.75" r="0.70"/><circle cx="411.44" cy="109.41" r="0.70"/><circle cx="409.87" cy="120.16" r="0.70"/><circle cx="512.43" cy="142.53" r="0.70"/><circle cx="494.29" cy="108.81" r="0.70"/><circle cx="410.65" cy="139.67" r="0.70"/><circle cx="512.96" cy="161.06" r="0.70"/><circle cx="474.13" cy="109.63" r="0.70"/><circle cx="410.21" cy="122.16" r="0.70"/><circle cx="512.48" cy="169.29" r="0.70"/><circle cx="441.45" cy="109.00" r="0.70"/><circle cx="409.63" cy="160.96" r="0.70"/><circle cx="512.11" cy="136.52" r="0.70"/><circle cx="454.54" cy="109.44" r="0.70"/><circle cx="409.95" cy="164.04" r="0.70"/><circle cx="512.09" cy="111.20" r="0.70"/><circle cx="484.77" cy="109.34" r="0.70"/><circle cx="410.71" cy="109.31" r="0.70"/><circle cx="512.51" cy="137.54" r="0.70"/></g>
<line x1="410.20" y1="141.60" x2="504.10" y2="141.60" stroke="#f01a1a" stroke-width="2.20"/>
<polygon fill="#f01a1a" points="511.60,141.60 504.10,145.60 504.10,137.60"/>
<text x="434.50" y="197.70" font-size="14.00" font-weight="bold" fill="#000" text-anchor="start">GC rank</text>
<text x="-0.95" y="0" font-size="14.00" font-weight="bold" fill="#000" textLength="63.63" lengthAdjust="spacingAndGlyphs" transform="translate(382.20 160.70) rotate(-90)">ENC rank</text>
<text x="367.20" y="86.48" font-size="15.50" font-weight="bold" fill="#000" text-anchor="start">(c)</text>
<rect x="35.50" y="202.30" width="156.50" height="117.70" fill="#fff" stroke="#dadada" stroke-width="0.7"/>
<line x1="52.70" y1="288.60" x2="187.50" y2="288.60" stroke="#e3e3e3" stroke-width="0.60"/>
<line x1="52.70" y1="277.03" x2="187.50" y2="277.03" stroke="#e3e3e3" stroke-width="0.60"/>
<line x1="52.70" y1="265.46" x2="187.50" y2="265.46" stroke="#e3e3e3" stroke-width="0.60"/>
<line x1="52.70" y1="253.89" x2="187.50" y2="253.89" stroke="#e3e3e3" stroke-width="0.60"/>
<line x1="52.70" y1="242.32" x2="187.50" y2="242.32" stroke="#e3e3e3" stroke-width="0.60"/>
<line x1="52.70" y1="230.75" x2="187.50" y2="230.75" stroke="#e3e3e3" stroke-width="0.60"/>
<line x1="52.70" y1="219.18" x2="187.50" y2="219.18" stroke="#e3e3e3" stroke-width="0.60"/>
<text x="79.57" y="213.20" font-size="7.80" font-weight="bold" fill="#595959" stroke="#595959" stroke-width="0.12" textLength="69.12" lengthAdjust="spacingAndGlyphs">Bee GC histogram</text>
<text x="49.50" y="290.26" font-size="4.60" font-weight="bold" fill="#595959" text-anchor="end" stroke="#595959" stroke-width="0.15">0</text>
<text x="49.50" y="278.69" font-size="4.60" font-weight="bold" fill="#595959" text-anchor="end" stroke="#595959" stroke-width="0.15">200</text>
<text x="49.50" y="267.12" font-size="4.60" font-weight="bold" fill="#595959" text-anchor="end" stroke="#595959" stroke-width="0.15">400</text>
<text x="49.50" y="255.55" font-size="4.60" font-weight="bold" fill="#595959" text-anchor="end" stroke="#595959" stroke-width="0.15">600</text>
<text x="49.50" y="243.98" font-size="4.60" font-weight="bold" fill="#595959" text-anchor="end" stroke="#595959" stroke-width="0.15">800</text>
<text x="49.50" y="232.41" font-size="4.60" font-weight="bold" fill="#595959" text-anchor="end" stroke="#595959" stroke-width="0.15">1000</text>
<text x="49.50" y="220.84" font-size="4.60" font-weight="bold" fill="#595959" text-anchor="end" stroke="#595959" stroke-width="0.15">1200</text>
<g fill="#1b5f84" stroke="#4f88a8" stroke-width="0.35"><rect x="52.70" y="286.90" width="5.09" height="1.70"/><rect x="57.79" y="283.80" width="5.09" height="4.80"/><rect x="62.88" y="274.90" width="5.09" height="13.70"/><rect x="67.97" y="260.40" width="5.09" height="28.20"/><rect x="73.06" y="248.20" width="5.09" height="40.40"/><rect x="78.15" y="233.40" width="5.09" height="55.20"/><rect x="83.24" y="225.30" width="5.09" height="63.30"/><rect x="88.33" y="225.30" width="5.09" height="63.30"/><rect x="93.42" y="240.00" width="5.09" height="48.60"/><rect x="98.51" y="250.70" width="5.09" height="37.90"/><rect x="103.60" y="258.40" width="5.09" height="30.20"/><rect x="108.69" y="267.30" width="5.09" height="21.30"/><rect x="113.78" y="266.00" width="5.09" height="22.60"/><rect x="118.87" y="268.50" width="5.09" height="20.10"/><rect x="123.96" y="268.00" width="5.09" height="20.60"/><rect x="129.05" y="269.80" width="5.09" height="18.80"/><rect x="134.14" y="270.60" width="5.09" height="18.00"/><rect x="139.23" y="271.60" width="5.09" height="17.00"/><rect x="144.32" y="273.60" width="5.09" height="15.00"/><rect x="149.41" y="275.70" width="5.09" height="12.90"/><rect x="154.50" y="281.30" width="5.09" height="7.30"/><rect x="159.59" y="284.30" width="5.09" height="4.30"/><rect x="164.68" y="285.80" width="5.09" height="2.80"/><rect x="169.77" y="286.90" width="5.09" height="1.70"/><rect x="174.86" y="287.40" width="5.09" height="1.20"/></g>
<text x="-0.57" y="0" font-size="7.30" font-weight="bold" fill="#1a1a1a" stroke="#1a1a1a" stroke-width="0.30" textLength="83.49" lengthAdjust="spacingAndGlyphs" transform="translate(33.40 303.00) rotate(-90)">Number of genes (N)</text>
<text x="58.90" y="304.60" font-size="10.60" font-weight="bold" fill="#000" text-anchor="middle">0.2</text>
<text x="107.30" y="304.60" font-size="10.60" font-weight="bold" fill="#000" text-anchor="middle">0.4</text>
<text x="159.40" y="304.60" font-size="10.60" font-weight="bold" fill="#000" text-anchor="middle">0.6</text>
<text x="46.83" y="333.90" font-size="13.80" font-weight="bold" fill="#000" textLength="147.17" lengthAdjust="spacingAndGlyphs">GC content (0.00-1.00)</text>
<text x="5.20" y="214.58" font-size="15.50" font-weight="bold" fill="#000" text-anchor="start">(d)</text>
<rect x="219.50" y="205.50" width="145.00" height="109.00" fill="#fff" stroke="#dadada" stroke-width="0.7"/>
<line x1="234.00" y1="291.40" x2="357.00" y2="291.40" stroke="#e3e3e3" stroke-width="0.60"/>
<line x1="234.00" y1="281.23" x2="357.00" y2="281.23" stroke="#e3e3e3" stroke-width="0.60"/>
<line x1="234.00" y1="271.06" x2="357.00" y2="271.06" stroke="#e3e3e3" stroke-width="0.60"/>
<line x1="234.00" y1="260.89" x2="357.00" y2="260.89" stroke="#e3e3e3" stroke-width="0.60"/>
<line x1="234.00" y1="250.72" x2="357.00" y2="250.72" stroke="#e3e3e3" stroke-width="0.60"/>
<line x1="234.00" y1="240.55" x2="357.00" y2="240.55" stroke="#e3e3e3" stroke-width="0.60"/>
<line x1="234.00" y1="230.38" x2="357.00" y2="230.38" stroke="#e3e3e3" stroke-width="0.60"/>
<line x1="234.00" y1="220.21" x2="357.00" y2="220.21" stroke="#e3e3e3" stroke-width="0.60"/>
<text x="258.52" y="214.20" font-size="7.10" font-weight="bold" fill="#595959" stroke="#595959" stroke-width="0.12" textLength="64.63" lengthAdjust="spacingAndGlyphs">Rice GC histogram</text>
<text x="232.00" y="293.06" font-size="4.60" font-weight="bold" fill="#595959" text-anchor="end" stroke="#595959" stroke-width="0.15">0</text>
<text x="232.00" y="282.89" font-size="4.60" font-weight="bold" fill="#595959" text-anchor="end" stroke="#595959" stroke-width="0.15">200</text>
<text x="232.00" y="272.72" font-size="4.60" font-weight="bold" fill="#595959" text-anchor="end" stroke="#595959" stroke-width="0.15">400</text>
<text x="232.00" y="262.55" font-size="4.60" font-weight="bold" fill="#595959" text-anchor="end" stroke="#595959" stroke-width="0.15">600</text>
<text x="232.00" y="252.38" font-size="4.60" font-weight="bold" fill="#595959" text-anchor="end" stroke="#595959" stroke-width="0.15">800</text>
<text x="232.00" y="242.21" font-size="4.60" font-weight="bold" fill="#595959" text-anchor="end" stroke="#595959" stroke-width="0.15">1000</text>
<text x="232.00" y="232.04" font-size="4.60" font-weight="bold" fill="#595959" text-anchor="end" stroke="#595959" stroke-width="0.15">1200</text>
<text x="232.00" y="221.87" font-size="4.60" font-weight="bold" fill="#595959" text-anchor="end" stroke="#595959" stroke-width="0.15">1400</text>
<g fill="#1b5f84" stroke="#4f88a8" stroke-width="0.35"><rect x="248.30" y="290.50" width="2.46" height="0.90"/><rect x="250.76" y="290.20" width="2.46" height="1.20"/><rect x="253.21" y="288.80" width="2.46" height="2.60"/><rect x="255.67" y="284.80" width="2.46" height="6.60"/><rect x="258.12" y="280.10" width="2.46" height="11.30"/><rect x="260.57" y="271.40" width="2.46" height="20.00"/><rect x="263.03" y="259.00" width="2.46" height="32.40"/><rect x="265.49" y="247.40" width="2.46" height="44.00"/><rect x="267.94" y="240.00" width="2.46" height="51.40"/><rect x="270.39" y="233.20" width="2.46" height="58.20"/><rect x="272.85" y="235.00" width="2.46" height="56.40"/><rect x="275.31" y="232.10" width="2.46" height="59.30"/><rect x="277.76" y="233.70" width="2.46" height="57.70"/><rect x="280.22" y="237.00" width="2.46" height="54.40"/><rect x="282.67" y="241.10" width="2.46" height="50.30"/><rect x="285.12" y="241.40" width="2.46" height="50.00"/><rect x="287.58" y="242.50" width="2.46" height="48.90"/><rect x="290.04" y="247.90" width="2.46" height="43.50"/><rect x="292.49" y="249.20" width="2.46" height="42.20"/><rect x="294.94" y="253.10" width="2.46" height="38.30"/><rect x="297.40" y="256.10" width="2.46" height="35.30"/><rect x="299.86" y="257.50" width="2.46" height="33.90"/><rect x="302.31" y="261.00" width="2.46" height="30.40"/><rect x="304.76" y="261.00" width="2.46" height="30.40"/><rect x="307.22" y="262.10" width="2.46" height="29.30"/><rect x="309.68" y="259.00" width="2.46" height="32.40"/><rect x="312.13" y="259.00" width="2.46" height="32.40"/><rect x="314.59" y="253.60" width="2.46" height="37.80"/><rect x="317.04" y="251.20" width="2.46" height="40.20"/><rect x="319.50" y="247.40" width="2.46" height="44.00"/><rect x="321.95" y="245.50" width="2.46" height="45.90"/><rect x="324.41" y="241.90" width="2.46" height="49.50"/><rect x="326.86" y="241.40" width="2.46" height="50.00"/><rect x="329.31" y="247.40" width="2.46" height="44.00"/><rect x="331.77" y="253.10" width="2.46" height="38.30"/><rect x="334.23" y="258.00" width="2.46" height="33.40"/><rect x="336.68" y="267.50" width="2.46" height="23.90"/><rect x="339.13" y="273.50" width="2.46" height="17.90"/><rect x="341.59" y="282.00" width="2.46" height="9.40"/><rect x="344.05" y="286.10" width="2.46" height="5.30"/><rect x="346.50" y="288.30" width="2.46" height="3.10"/><rect x="348.96" y="290.20" width="2.46" height="1.20"/><rect x="351.41" y="290.80" width="2.46" height="0.60"/></g>
<text x="-0.56" y="0" font-size="7.30" font-weight="bold" fill="#1a1a1a" stroke="#1a1a1a" stroke-width="0.30" textLength="82.88" lengthAdjust="spacingAndGlyphs" transform="translate(216.90 299.50) rotate(-90)">Number of genes (N)</text>
<text x="241.50" y="307.20" font-size="10.60" font-weight="bold" fill="#000" text-anchor="middle">0.3</text>
<text x="277.00" y="307.20" font-size="10.60" font-weight="bold" fill="#000" text-anchor="middle">0.45</text>
<text x="311.00" y="307.20" font-size="10.60" font-weight="bold" fill="#000" text-anchor="middle">0.6</text>
<text x="343.80" y="307.20" font-size="10.60" font-weight="bold" fill="#000" text-anchor="middle">0.75</text>
<text x="218.94" y="331.80" font-size="13.80" font-weight="bold" fill="#000" textLength="144.64" lengthAdjust="spacingAndGlyphs">GC content (0.00-1.00)</text>
<text x="194.00" y="214.48" font-size="15.50" font-weight="bold" fill="#000" text-anchor="start">(e)</text>
<rect x="392.60" y="204.00" width="142.80" height="108.00" fill="#fff" stroke="#dadada" stroke-width="0.7"/>
<line x1="405.40" y1="288.60" x2="531.00" y2="288.60" stroke="#e3e3e3" stroke-width="0.60"/>
<line x1="405.40" y1="279.74" x2="531.00" y2="279.74" stroke="#e3e3e3" stroke-width="0.60"/>
<line x1="405.40" y1="270.88" x2="531.00" y2="270.88" stroke="#e3e3e3" stroke-width="0.60"/>
<line x1="405.40" y1="262.02" x2="531.00" y2="262.02" stroke="#e3e3e3" stroke-width="0.60"/>
<line x1="405.40" y1="253.16" x2="531.00" y2="253.16" stroke="#e3e3e3" stroke-width="0.60"/>
<line x1="405.40" y1="244.30" x2="531.00" y2="244.30" stroke="#e3e3e3" stroke-width="0.60"/>
<line x1="405.40" y1="235.44" x2="531.00" y2="235.44" stroke="#e3e3e3" stroke-width="0.60"/>
<line x1="405.40" y1="226.58" x2="531.00" y2="226.58" stroke="#e3e3e3" stroke-width="0.60"/>
<line x1="405.40" y1="217.72" x2="531.00" y2="217.72" stroke="#e3e3e3" stroke-width="0.60"/>
<text x="418.49" y="212.00" font-size="6.90" font-weight="bold" fill="#595959" stroke="#595959" stroke-width="0.12" textLength="91.96" lengthAdjust="spacingAndGlyphs">S cerevisiae GC histogram</text>
<text x="402.30" y="290.18" font-size="4.40" font-weight="bold" fill="#595959" text-anchor="end" stroke="#595959" stroke-width="0.15">0</text>
<text x="402.30" y="281.32" font-size="4.40" font-weight="bold" fill="#595959" text-anchor="end" stroke="#595959" stroke-width="0.15">100</text>
<text x="402.30" y="272.46" font-size="4.40" font-weight="bold" fill="#595959" text-anchor="end" stroke="#595959" stroke-width="0.15">200</text>
<text x="402.30" y="263.60" font-size="4.40" font-weight="bold" fill="#595959" text-anchor="end" stroke="#595959" stroke-width="0.15">300</text>
<text x="402.30" y="254.74" font-size="4.40" font-weight="bold" fill="#595959" text-anchor="end" stroke="#595959" stroke-width="0.15">400</text>
<text x="402.30" y="245.88" font-size="4.40" font-weight="bold" fill="#595959" text-anchor="end" stroke="#595959" stroke-width="0.15">500</text>
<text x="402.30" y="237.02" font-size="4.40" font-weight="bold" fill="#595959" text-anchor="end" stroke="#595959" stroke-width="0.15">600</text>
<text x="402.30" y="228.16" font-size="4.40" font-weight="bold" fill="#595959" text-anchor="end" stroke="#595959" stroke-width="0.15">700</text>
<text x="402.30" y="219.30" font-size="4.40" font-weight="bold" fill="#595959" text-anchor="end" stroke="#595959" stroke-width="0.15">800</text>
<g fill="#1b5f84" stroke="#4f88a8" stroke-width="0.35"><rect x="405.50" y="288.40" width="3.88" height="0.20"/><rect x="409.38" y="288.20" width="3.88" height="0.40"/><rect x="413.26" y="288.20" width="3.88" height="0.40"/><rect x="417.14" y="288.20" width="3.88" height="0.40"/><rect x="421.02" y="287.50" width="3.88" height="1.10"/><rect x="424.90" y="287.20" width="3.88" height="1.40"/><rect x="428.78" y="285.40" width="3.88" height="3.20"/><rect x="432.66" y="280.90" width="3.88" height="7.70"/><rect x="436.54" y="272.50" width="3.88" height="16.10"/><rect x="440.42" y="262.10" width="3.88" height="26.50"/><rect x="444.30" y="244.30" width="3.88" height="44.30"/><rect x="448.18" y="226.50" width="3.88" height="62.10"/><rect x="452.06" y="222.40" width="3.88" height="66.20"/><rect x="455.94" y="223.70" width="3.88" height="64.90"/><rect x="459.82" y="233.10" width="3.88" height="55.50"/><rect x="463.70" y="244.00" width="3.88" height="44.60"/><rect x="467.58" y="252.90" width="3.88" height="35.70"/><rect x="471.46" y="263.10" width="3.88" height="25.50"/><rect x="475.34" y="270.70" width="3.88" height="17.90"/><rect x="479.22" y="276.10" width="3.88" height="12.50"/><rect x="483.10" y="277.40" width="3.88" height="11.20"/><rect x="486.98" y="278.30" width="3.88" height="10.30"/><rect x="490.86" y="284.00" width="3.88" height="4.60"/><rect x="494.74" y="285.30" width="3.88" height="3.30"/><rect x="498.62" y="287.30" width="3.88" height="1.30"/><rect x="502.50" y="286.50" width="3.88" height="2.10"/><rect x="506.38" y="287.80" width="3.88" height="0.80"/><rect x="510.26" y="288.00" width="3.88" height="0.60"/><rect x="514.14" y="288.20" width="3.88" height="0.40"/><rect x="518.02" y="288.30" width="3.88" height="0.30"/></g>
<text x="-0.56" y="0" font-size="7.30" font-weight="bold" fill="#1a1a1a" stroke="#1a1a1a" stroke-width="0.30" textLength="82.98" lengthAdjust="spacingAndGlyphs" transform="translate(387.30 300.10) rotate(-90)">Number of genes (N)</text>
<text x="411.60" y="302.00" font-size="10.90" font-weight="bold" fill="#000" text-anchor="middle">0.27</text>
<text x="444.00" y="302.00" font-size="10.90" font-weight="bold" fill="#000" text-anchor="middle">0.37</text>
<text x="484.00" y="302.00" font-size="10.90" font-weight="bold" fill="#000" text-anchor="middle">0.47</text>
<text x="523.00" y="302.00" font-size="10.90" font-weight="bold" fill="#000" text-anchor="middle">0.57</text>
<text x="393.52" y="332.00" font-size="13.80" font-weight="bold" fill="#000" textLength="149.49" lengthAdjust="spacingAndGlyphs">GC content (0.00-1.00)</text>
<text x="369.20" y="211.08" font-size="15.50" font-weight="bold" fill="#000" text-anchor="start">(f)</text>
<rect x="39.00" y="347.30" width="151.30" height="128.20" fill="#fff" stroke="#dadada" stroke-width="0.7"/>
<line x1="50.00" y1="444.40" x2="187.50" y2="444.40" stroke="#e3e3e3" stroke-width="0.60"/>
<line x1="50.00" y1="435.15" x2="187.50" y2="435.15" stroke="#e3e3e3" stroke-width="0.60"/>
<line x1="50.00" y1="425.90" x2="187.50" y2="425.90" stroke="#e3e3e3" stroke-width="0.60"/>
<line x1="50.00" y1="416.65" x2="187.50" y2="416.65" stroke="#e3e3e3" stroke-width="0.60"/>
<line x1="50.00" y1="407.40" x2="187.50" y2="407.40" stroke="#e3e3e3" stroke-width="0.60"/>
<line x1="50.00" y1="398.15" x2="187.50" y2="398.15" stroke="#e3e3e3" stroke-width="0.60"/>
<line x1="50.00" y1="388.90" x2="187.50" y2="388.90" stroke="#e3e3e3" stroke-width="0.60"/>
<line x1="50.00" y1="379.65" x2="187.50" y2="379.65" stroke="#e3e3e3" stroke-width="0.60"/>
<line x1="50.00" y1="370.40" x2="187.50" y2="370.40" stroke="#e3e3e3" stroke-width="0.60"/>
<line x1="50.00" y1="361.15" x2="187.50" y2="361.15" stroke="#e3e3e3" stroke-width="0.60"/>
<text x="83.56" y="356.40" font-size="6.60" font-weight="bold" fill="#595959" stroke="#595959" stroke-width="0.12" textLength="61.85" lengthAdjust="spacingAndGlyphs">Bee ENC histogram</text>
<text x="48.20" y="445.98" font-size="4.40" font-weight="bold" fill="#595959" text-anchor="end" stroke="#595959" stroke-width="0.15">0</text>
<text x="48.20" y="436.73" font-size="4.40" font-weight="bold" fill="#595959" text-anchor="end" stroke="#595959" stroke-width="0.15">100</text>
<text x="48.20" y="427.48" font-size="4.40" font-weight="bold" fill="#595959" text-anchor="end" stroke="#595959" stroke-width="0.15">200</text>
<text x="48.20" y="418.23" font-size="4.40" font-weight="bold" fill="#595959" text-anchor="end" stroke="#595959" stroke-width="0.15">300</text>
<text x="48.20" y="408.98" font-size="4.40" font-weight="bold" fill="#595959" text-anchor="end" stroke="#595959" stroke-width="0.15">400</text>
<text x="48.20" y="399.73" font-size="4.40" font-weight="bold" fill="#595959" text-anchor="end" stroke="#595959" stroke-width="0.15">500</text>
<text x="48.20" y="390.48" font-size="4.40" font-weight="bold" fill="#595959" text-anchor="end" stroke="#595959" stroke-width="0.15">600</text>
<text x="48.20" y="381.23" font-size="4.40" font-weight="bold" fill="#595959" text-anchor="end" stroke="#595959" stroke-width="0.15">700</text>
<text x="48.20" y="371.98" font-size="4.40" font-weight="bold" fill="#595959" text-anchor="end" stroke="#595959" stroke-width="0.15">800</text>
<text x="48.20" y="362.73" font-size="4.40" font-weight="bold" fill="#595959" text-anchor="end" stroke="#595959" stroke-width="0.15">900</text>
<g fill="#1b5f84" stroke="#4f88a8" stroke-width="0.35"><rect x="68.30" y="443.70" width="4.42" height="0.70"/><rect x="72.72" y="443.00" width="4.42" height="1.40"/><rect x="77.14" y="442.30" width="4.42" height="2.10"/><rect x="81.56" y="439.40" width="4.42" height="5.00"/><rect x="85.98" y="429.90" width="4.42" height="14.50"/><rect x="90.40" y="411.00" width="4.42" height="33.40"/><rect x="94.82" y="381.50" width="4.42" height="62.90"/><rect x="99.24" y="371.00" width="4.42" height="73.40"/><rect x="103.66" y="373.60" width="4.42" height="70.80"/><rect x="108.08" y="385.50" width="4.42" height="58.90"/><rect x="112.50" y="389.60" width="4.42" height="54.80"/><rect x="116.92" y="401.30" width="4.42" height="43.10"/><rect x="121.34" y="405.20" width="4.42" height="39.20"/><rect x="125.76" y="408.50" width="4.42" height="35.90"/><rect x="130.18" y="413.20" width="4.42" height="31.20"/><rect x="134.60" y="409.30" width="4.42" height="35.10"/><rect x="139.02" y="409.30" width="4.42" height="35.10"/><rect x="143.44" y="411.00" width="4.42" height="33.40"/><rect x="147.86" y="405.60" width="4.42" height="38.80"/><rect x="152.28" y="405.90" width="4.42" height="38.50"/><rect x="156.70" y="405.20" width="4.42" height="39.20"/><rect x="161.12" y="399.80" width="4.42" height="44.60"/><rect x="165.54" y="401.80" width="4.42" height="42.60"/><rect x="169.96" y="415.80" width="4.42" height="28.60"/><rect x="174.38" y="424.10" width="4.42" height="20.30"/><rect x="178.80" y="434.30" width="4.42" height="10.10"/><rect x="183.22" y="430.90" width="4.42" height="13.50"/></g>
<text x="-0.56" y="0" font-size="7.30" font-weight="bold" fill="#1a1a1a" stroke="#1a1a1a" stroke-width="0.30" textLength="82.68" lengthAdjust="spacingAndGlyphs" transform="translate(32.80 453.80) rotate(-90)">Number of genes (N)</text>
<text x="53.20" y="455.60" font-size="10.60" font-weight="bold" fill="#000" text-anchor="middle">23</text>
<text x="87.20" y="455.60" font-size="10.60" font-weight="bold" fill="#000" text-anchor="middle">33</text>
<text x="119.70" y="455.60" font-size="10.60" font-weight="bold" fill="#000" text-anchor="middle">43</text>
<text x="153.30" y="455.60" font-size="10.60" font-weight="bold" fill="#000" text-anchor="middle">53</text>
<text x="183.00" y="455.60" font-size="10.60" font-weight="bold" fill="#000" text-anchor="middle">61</text>
<text x="118.10" y="470.00" font-size="10.70" font-weight="bold" fill="#111" text-anchor="middle">ENC level</text>
<text x="51.28" y="491.90" font-size="15.00" font-weight="bold" fill="#000" textLength="123.17" lengthAdjust="spacingAndGlyphs">ENC level (20-61)</text>
<text x="10.20" y="345.68" font-size="15.50" font-weight="bold" fill="#000" text-anchor="start">(g)</text>
<rect x="222.80" y="344.20" width="138.20" height="129.30" fill="#fff" stroke="#dadada" stroke-width="0.7"/>
<line x1="238.60" y1="434.80" x2="357.00" y2="434.80" stroke="#e3e3e3" stroke-width="0.60"/>
<line x1="238.60" y1="420.00" x2="357.00" y2="420.00" stroke="#e3e3e3" stroke-width="0.60"/>
<line x1="238.60" y1="405.20" x2="357.00" y2="405.20" stroke="#e3e3e3" stroke-width="0.60"/>
<line x1="238.60" y1="390.40" x2="357.00" y2="390.40" stroke="#e3e3e3" stroke-width="0.60"/>
<line x1="238.60" y1="375.60" x2="357.00" y2="375.60" stroke="#e3e3e3" stroke-width="0.60"/>
<line x1="238.60" y1="360.80" x2="357.00" y2="360.80" stroke="#e3e3e3" stroke-width="0.60"/>
<text x="253.46" y="354.00" font-size="8.00" font-weight="bold" fill="#595959" stroke="#595959" stroke-width="0.12" textLength="78.05" lengthAdjust="spacingAndGlyphs">Rice ENC histogram</text>
<text x="235.50" y="436.38" font-size="4.40" font-weight="bold" fill="#595959" text-anchor="end" stroke="#595959" stroke-width="0.15">0</text>
<text x="235.50" y="421.58" font-size="4.40" font-weight="bold" fill="#595959" text-anchor="end" stroke="#595959" stroke-width="0.15">500</text>
<text x="235.50" y="406.78" font-size="4.40" font-weight="bold" fill="#595959" text-anchor="end" stroke="#595959" stroke-width="0.15">1000</text>
<text x="235.50" y="391.98" font-size="4.40" font-weight="bold" fill="#595959" text-anchor="end" stroke="#595959" stroke-width="0.15">1500</text>
<text x="235.50" y="377.18" font-size="4.40" font-weight="bold" fill="#595959" text-anchor="end" stroke="#595959" stroke-width="0.15">2000</text>
<text x="235.50" y="362.38" font-size="4.40" font-weight="bold" fill="#595959" text-anchor="end" stroke="#595959" stroke-width="0.15">2500</text>
<g fill="#1b5f84" stroke="#4f88a8" stroke-width="0.35"><rect x="245.20" y="434.20" width="3.23" height="0.60"/><rect x="248.43" y="433.30" width="3.23" height="1.50"/><rect x="251.66" y="432.00" width="3.23" height="2.80"/><rect x="254.89" y="429.50" width="3.23" height="5.30"/><rect x="258.12" y="422.70" width="3.23" height="12.10"/><rect x="261.35" y="412.90" width="3.23" height="21.90"/><rect x="264.58" y="405.70" width="3.23" height="29.10"/><rect x="267.81" y="403.10" width="3.23" height="31.70"/><rect x="271.04" y="405.30" width="3.23" height="29.50"/><rect x="274.27" y="410.00" width="3.23" height="24.80"/><rect x="277.50" y="410.00" width="3.23" height="24.80"/><rect x="280.73" y="412.90" width="3.23" height="21.90"/><rect x="283.96" y="416.70" width="3.23" height="18.10"/><rect x="287.19" y="418.00" width="3.23" height="16.80"/><rect x="290.42" y="419.70" width="3.23" height="15.10"/><rect x="293.65" y="420.90" width="3.23" height="13.90"/><rect x="296.88" y="419.30" width="3.23" height="15.50"/><rect x="300.11" y="421.20" width="3.23" height="13.60"/><rect x="303.34" y="420.20" width="3.23" height="14.60"/><rect x="306.57" y="420.20" width="3.23" height="14.60"/><rect x="309.80" y="419.30" width="3.23" height="15.50"/><rect x="313.03" y="417.00" width="3.23" height="17.80"/><rect x="316.26" y="414.20" width="3.23" height="20.60"/><rect x="319.49" y="409.50" width="3.23" height="25.30"/><rect x="322.72" y="401.50" width="3.23" height="33.30"/><rect x="325.95" y="393.20" width="3.23" height="41.60"/><rect x="329.18" y="383.60" width="3.23" height="51.20"/><rect x="332.41" y="376.40" width="3.23" height="58.40"/><rect x="335.64" y="371.50" width="3.23" height="63.30"/><rect x="338.87" y="374.10" width="3.23" height="60.70"/><rect x="342.10" y="382.70" width="3.23" height="52.10"/><rect x="345.33" y="401.50" width="3.23" height="33.30"/><rect x="348.56" y="418.00" width="3.23" height="16.80"/><rect x="351.79" y="415.10" width="3.23" height="19.70"/></g>
<text x="-0.56" y="0" font-size="7.30" font-weight="bold" fill="#1a1a1a" stroke="#1a1a1a" stroke-width="0.30" textLength="82.68" lengthAdjust="spacingAndGlyphs" transform="translate(217.20 454.40) rotate(-90)">Number of genes (N)</text>
<text x="245.00" y="447.90" font-size="10.60" font-weight="bold" fill="#000" text-anchor="middle">23</text>
<text x="272.10" y="447.90" font-size="10.60" font-weight="bold" fill="#000" text-anchor="middle">33</text>
<text x="299.70" y="447.90" font-size="10.60" font-weight="bold" fill="#000" text-anchor="middle">43</text>
<text x="326.40" y="447.90" font-size="10.60" font-weight="bold" fill="#000" text-anchor="middle">53</text>
<text x="350.30" y="447.90" font-size="10.60" font-weight="bold" fill="#000" text-anchor="middle">61</text>
<text x="296.40" y="464.30" font-size="10.70" font-weight="bold" fill="#111" text-anchor="middle">ENC level</text>
<text x="228.89" y="492.20" font-size="15.00" font-weight="bold" fill="#000" textLength="122.26" lengthAdjust="spacingAndGlyphs">ENC level (20-61)</text>
<text x="196.20" y="347.88" font-size="15.50" font-weight="bold" fill="#000" text-anchor="start">(h)</text>
<rect x="385.50" y="344.50" width="153.70" height="119.10" fill="#fff" stroke="#dadada" stroke-width="0.7"/>
<line x1="400.00" y1="424.80" x2="535.50" y2="424.80" stroke="#e3e3e3" stroke-width="0.60"/>
<line x1="400.00" y1="417.58" x2="535.50" y2="417.58" stroke="#e3e3e3" stroke-width="0.60"/>
<line x1="400.00" y1="410.36" x2="535.50" y2="410.36" stroke="#e3e3e3" stroke-width="0.60"/>
<line x1="400.00" y1="403.14" x2="535.50" y2="403.14" stroke="#e3e3e3" stroke-width="0.60"/>
<line x1="400.00" y1="395.92" x2="535.50" y2="395.92" stroke="#e3e3e3" stroke-width="0.60"/>
<line x1="400.00" y1="388.70" x2="535.50" y2="388.70" stroke="#e3e3e3" stroke-width="0.60"/>
<line x1="400.00" y1="381.48" x2="535.50" y2="381.48" stroke="#e3e3e3" stroke-width="0.60"/>
<line x1="400.00" y1="374.26" x2="535.50" y2="374.26" stroke="#e3e3e3" stroke-width="0.60"/>
<line x1="400.00" y1="367.04" x2="535.50" y2="367.04" stroke="#e3e3e3" stroke-width="0.60"/>
<line x1="400.00" y1="359.82" x2="535.50" y2="359.82" stroke="#e3e3e3" stroke-width="0.60"/>
<text x="411.08" y="354.00" font-size="7.60" font-weight="bold" fill="#595959" stroke="#595959" stroke-width="0.12" textLength="101.80" lengthAdjust="spacingAndGlyphs">S cerevisiae ENC histogram</text>
<text x="397.00" y="426.35" font-size="4.30" font-weight="bold" fill="#595959" text-anchor="end" stroke="#595959" stroke-width="0.15">0</text>
<text x="397.00" y="419.13" font-size="4.30" font-weight="bold" fill="#595959" text-anchor="end" stroke="#595959" stroke-width="0.15">100</text>
<text x="397.00" y="411.91" font-size="4.30" font-weight="bold" fill="#595959" text-anchor="end" stroke="#595959" stroke-width="0.15">200</text>
<text x="397.00" y="404.69" font-size="4.30" font-weight="bold" fill="#595959" text-anchor="end" stroke="#595959" stroke-width="0.15">300</text>
<text x="397.00" y="397.47" font-size="4.30" font-weight="bold" fill="#595959" text-anchor="end" stroke="#595959" stroke-width="0.15">400</text>
<text x="397.00" y="390.25" font-size="4.30" font-weight="bold" fill="#595959" text-anchor="end" stroke="#595959" stroke-width="0.15">500</text>
<text x="397.00" y="383.03" font-size="4.30" font-weight="bold" fill="#595959" text-anchor="end" stroke="#595959" stroke-width="0.15">600</text>
<text x="397.00" y="375.81" font-size="4.30" font-weight="bold" fill="#595959" text-anchor="end" stroke="#595959" stroke-width="0.15">700</text>
<text x="397.00" y="368.59" font-size="4.30" font-weight="bold" fill="#595959" text-anchor="end" stroke="#595959" stroke-width="0.15">800</text>
<text x="397.00" y="361.37" font-size="4.30" font-weight="bold" fill="#595959" text-anchor="end" stroke="#595959" stroke-width="0.15">900</text>
<g fill="#1b5f84" stroke="#4f88a8" stroke-width="0.35"><rect x="403.80" y="424.10" width="4.53" height="0.70"/><rect x="408.33" y="423.30" width="4.53" height="1.50"/><rect x="412.86" y="421.60" width="4.53" height="3.20"/><rect x="417.39" y="421.40" width="4.53" height="3.40"/><rect x="421.92" y="423.10" width="4.53" height="1.70"/><rect x="426.45" y="424.10" width="4.53" height="0.70"/><rect x="430.98" y="423.50" width="4.53" height="1.30"/><rect x="435.51" y="423.30" width="4.53" height="1.50"/><rect x="440.04" y="422.50" width="4.53" height="2.30"/><rect x="444.57" y="423.30" width="4.53" height="1.50"/><rect x="449.10" y="420.90" width="4.53" height="3.90"/><rect x="453.63" y="422.50" width="4.53" height="2.30"/><rect x="458.16" y="419.90" width="4.53" height="4.90"/><rect x="462.69" y="418.40" width="4.53" height="6.40"/><rect x="467.22" y="417.40" width="4.53" height="7.40"/><rect x="471.75" y="416.10" width="4.53" height="8.70"/><rect x="476.28" y="412.90" width="4.53" height="11.90"/><rect x="480.81" y="406.60" width="4.53" height="18.20"/><rect x="485.34" y="399.80" width="4.53" height="25.00"/><rect x="489.87" y="389.60" width="4.53" height="35.20"/><rect x="494.40" y="376.80" width="4.53" height="48.00"/><rect x="498.93" y="369.50" width="4.53" height="55.30"/><rect x="503.46" y="378.00" width="4.53" height="46.80"/><rect x="507.99" y="386.30" width="4.53" height="38.50"/><rect x="512.52" y="393.50" width="4.53" height="31.30"/><rect x="517.05" y="407.10" width="4.53" height="17.70"/><rect x="521.58" y="412.50" width="4.53" height="12.30"/><rect x="526.11" y="417.80" width="4.53" height="7.00"/><rect x="530.64" y="411.40" width="4.53" height="13.40"/></g>
<text x="-0.56" y="0" font-size="7.30" font-weight="bold" fill="#1a1a1a" stroke="#1a1a1a" stroke-width="0.30" textLength="82.07" lengthAdjust="spacingAndGlyphs" transform="translate(383.20 453.20) rotate(-90)">Number of genes (N)</text>
<text x="404.80" y="438.30" font-size="10.60" font-weight="bold" fill="#000" text-anchor="middle">23</text>
<text x="434.50" y="438.30" font-size="10.60" font-weight="bold" fill="#000" text-anchor="middle">33</text>
<text x="467.90" y="438.30" font-size="10.60" font-weight="bold" fill="#000" text-anchor="middle">43</text>
<text x="504.30" y="438.30" font-size="10.60" font-weight="bold" fill="#000" text-anchor="middle">53</text>
<text x="531.20" y="438.30" font-size="10.60" font-weight="bold" fill="#000" text-anchor="middle">61</text>
<text x="462.10" y="455.80" font-size="10.70" font-weight="bold" fill="#111" text-anchor="middle">ENC level</text>
<text x="407.29" y="492.20" font-size="15.00" font-weight="bold" fill="#000" textLength="122.46" lengthAdjust="spacingAndGlyphs">ENC level (20-61)</text>
<text x="367.20" y="347.78" font-size="15.50" font-weight="bold" fill="#000" text-anchor="start">(i)</text>
<rect x="42.20" y="504.50" width="152.80" height="173.50" fill="#fff" stroke="#dadada" stroke-width="0.7"/>
<line x1="58.50" y1="626.80" x2="188.00" y2="626.80" stroke="#e3e3e3" stroke-width="0.60"/>
<line x1="58.50" y1="609.00" x2="188.00" y2="609.00" stroke="#e3e3e3" stroke-width="0.60"/>
<line x1="58.50" y1="591.20" x2="188.00" y2="591.20" stroke="#e3e3e3" stroke-width="0.60"/>
<line x1="58.50" y1="573.40" x2="188.00" y2="573.40" stroke="#e3e3e3" stroke-width="0.60"/>
<line x1="58.50" y1="555.60" x2="188.00" y2="555.60" stroke="#e3e3e3" stroke-width="0.60"/>
<line x1="58.50" y1="537.80" x2="188.00" y2="537.80" stroke="#e3e3e3" stroke-width="0.60"/>
<line x1="58.50" y1="520.00" x2="188.00" y2="520.00" stroke="#e3e3e3" stroke-width="0.60"/>
<text x="74.79" y="513.70" font-size="7.50" font-weight="bold" fill="#595959" stroke="#595959" stroke-width="0.12" textLength="86.50" lengthAdjust="spacingAndGlyphs">Bee GC rank - ENC rank</text>
<text x="55.50" y="628.46" font-size="4.60" font-weight="bold" fill="#595959" text-anchor="end" stroke="#595959" stroke-width="0.15">0</text>
<text x="55.50" y="610.66" font-size="4.60" font-weight="bold" fill="#595959" text-anchor="end" stroke="#595959" stroke-width="0.15">200</text>
<text x="55.50" y="592.86" font-size="4.60" font-weight="bold" fill="#595959" text-anchor="end" stroke="#595959" stroke-width="0.15">400</text>
<text x="55.50" y="575.06" font-size="4.60" font-weight="bold" fill="#595959" text-anchor="end" stroke="#595959" stroke-width="0.15">600</text>
<text x="55.50" y="557.26" font-size="4.60" font-weight="bold" fill="#595959" text-anchor="end" stroke="#595959" stroke-width="0.15">800</text>
<text x="55.50" y="539.46" font-size="4.60" font-weight="bold" fill="#595959" text-anchor="end" stroke="#595959" stroke-width="0.15">1000</text>
<text x="55.50" y="521.66" font-size="4.60" font-weight="bold" fill="#595959" text-anchor="end" stroke="#595959" stroke-width="0.15">1200</text>
<g fill="#1b5f84" stroke="#4f88a8" stroke-width="0.35"><rect x="65.00" y="626.20" width="2.25" height="0.60"/><rect x="67.25" y="625.80" width="2.25" height="1.00"/><rect x="69.50" y="625.50" width="2.25" height="1.30"/><rect x="71.75" y="623.50" width="2.25" height="3.30"/><rect x="74.00" y="619.90" width="2.25" height="6.90"/><rect x="76.25" y="618.20" width="2.25" height="8.60"/><rect x="78.50" y="611.50" width="2.25" height="15.30"/><rect x="80.75" y="602.20" width="2.25" height="24.60"/><rect x="83.00" y="598.10" width="2.25" height="28.70"/><rect x="85.25" y="587.20" width="2.25" height="39.60"/><rect x="87.50" y="578.80" width="2.25" height="48.00"/><rect x="89.75" y="564.50" width="2.25" height="62.30"/><rect x="92.00" y="551.10" width="2.25" height="75.70"/><rect x="94.25" y="535.80" width="2.25" height="91.00"/><rect x="96.50" y="536.70" width="2.25" height="90.10"/><rect x="98.75" y="543.40" width="2.25" height="83.40"/><rect x="101.00" y="564.80" width="2.25" height="62.00"/><rect x="103.25" y="581.70" width="2.25" height="45.10"/><rect x="105.50" y="594.40" width="2.25" height="32.40"/><rect x="107.75" y="606.20" width="2.25" height="20.60"/><rect x="110.00" y="606.80" width="2.25" height="20.00"/><rect x="112.25" y="611.90" width="2.25" height="14.90"/><rect x="114.50" y="613.10" width="2.25" height="13.70"/><rect x="116.75" y="615.90" width="2.25" height="10.90"/><rect x="119.00" y="616.80" width="2.25" height="10.00"/><rect x="121.25" y="618.60" width="2.25" height="8.20"/><rect x="123.50" y="619.50" width="2.25" height="7.30"/><rect x="125.75" y="620.50" width="2.25" height="6.30"/><rect x="128.00" y="620.80" width="2.25" height="6.00"/><rect x="130.25" y="620.80" width="2.25" height="6.00"/><rect x="132.50" y="621.20" width="2.25" height="5.60"/><rect x="134.75" y="621.60" width="2.25" height="5.20"/><rect x="137.00" y="622.30" width="2.25" height="4.50"/><rect x="139.25" y="623.10" width="2.25" height="3.70"/><rect x="141.50" y="624.40" width="2.25" height="2.40"/><rect x="143.75" y="625.10" width="2.25" height="1.70"/><rect x="146.00" y="625.30" width="2.25" height="1.50"/><rect x="148.25" y="625.60" width="2.25" height="1.20"/><rect x="150.50" y="626.10" width="2.25" height="0.70"/><rect x="152.75" y="626.10" width="2.25" height="0.70"/><rect x="155.00" y="626.10" width="2.25" height="0.70"/><rect x="157.25" y="626.10" width="2.25" height="0.70"/><rect x="159.50" y="626.10" width="2.25" height="0.70"/><rect x="161.75" y="626.40" width="2.25" height="0.40"/><rect x="164.00" y="626.40" width="2.25" height="0.40"/><rect x="166.25" y="626.40" width="2.25" height="0.40"/><rect x="168.50" y="626.40" width="2.25" height="0.40"/><rect x="170.75" y="626.40" width="2.25" height="0.40"/><rect x="173.00" y="626.40" width="2.25" height="0.40"/><rect x="175.25" y="626.40" width="2.25" height="0.40"/><rect x="177.50" y="626.40" width="2.25" height="0.40"/><rect x="179.75" y="626.40" width="2.25" height="0.40"/><rect x="182.00" y="626.40" width="2.25" height="0.40"/><rect x="184.25" y="626.40" width="2.25" height="0.40"/></g>
<text x="-0.57" y="0" font-size="7.30" font-weight="bold" fill="#1a1a1a" stroke="#1a1a1a" stroke-width="0.30" textLength="83.29" lengthAdjust="spacingAndGlyphs" transform="translate(32.90 633.90) rotate(-90)">Number of genes (N)</text>
<line x1="58.50" y1="630.00" x2="188.00" y2="630.00" stroke="#c9d2d6" stroke-width="0.90"/>
<text x="71.00" y="640.00" font-size="10.60" font-weight="bold" fill="#000" text-anchor="middle">-5,000</text>
<text x="101.30" y="640.00" font-size="10.60" font-weight="bold" fill="#000" text-anchor="middle">0</text>
<text x="140.60" y="640.00" font-size="10.60" font-weight="bold" fill="#000" text-anchor="middle">5000</text>
<text x="181.60" y="640.00" font-size="10.60" font-weight="bold" fill="#000" text-anchor="middle">10,000</text>
<text x="79.16" y="660.60" font-size="10.80" font-weight="bold" fill="#000" textLength="100.43" lengthAdjust="spacingAndGlyphs">GC rank - ENC rank</text>
<text x="61.05" y="691.60" font-size="13.30" font-weight="bold" fill="#000" textLength="123.43" lengthAdjust="spacingAndGlyphs">GC rank - ENC rank</text>
<text x="16.90" y="517.68" font-size="15.50" font-weight="bold" fill="#000" text-anchor="start">(j)</text>
<rect x="222.00" y="507.40" width="141.60" height="152.60" fill="#fff" stroke="#dadada" stroke-width="0.7"/>
<line x1="236.80" y1="618.60" x2="360.50" y2="618.60" stroke="#e3e3e3" stroke-width="0.60"/>
<line x1="236.80" y1="599.40" x2="360.50" y2="599.40" stroke="#e3e3e3" stroke-width="0.60"/>
<line x1="236.80" y1="580.20" x2="360.50" y2="580.20" stroke="#e3e3e3" stroke-width="0.60"/>
<line x1="236.80" y1="561.00" x2="360.50" y2="561.00" stroke="#e3e3e3" stroke-width="0.60"/>
<line x1="236.80" y1="541.80" x2="360.50" y2="541.80" stroke="#e3e3e3" stroke-width="0.60"/>
<line x1="236.80" y1="522.60" x2="360.50" y2="522.60" stroke="#e3e3e3" stroke-width="0.60"/>
<text x="250.92" y="516.40" font-size="7.10" font-weight="bold" fill="#595959" stroke="#595959" stroke-width="0.12" textLength="83.17" lengthAdjust="spacingAndGlyphs">Rice GC rank - ENC rank</text>
<text x="234.50" y="620.26" font-size="4.60" font-weight="bold" fill="#595959" text-anchor="end" stroke="#595959" stroke-width="0.15">0</text>
<text x="234.50" y="601.06" font-size="4.60" font-weight="bold" fill="#595959" text-anchor="end" stroke="#595959" stroke-width="0.15">500</text>
<text x="234.50" y="581.86" font-size="4.60" font-weight="bold" fill="#595959" text-anchor="end" stroke="#595959" stroke-width="0.15">1000</text>
<text x="234.50" y="562.66" font-size="4.60" font-weight="bold" fill="#595959" text-anchor="end" stroke="#595959" stroke-width="0.15">1500</text>
<text x="234.50" y="543.46" font-size="4.60" font-weight="bold" fill="#595959" text-anchor="end" stroke="#595959" stroke-width="0.15">2000</text>
<text x="234.50" y="524.26" font-size="4.60" font-weight="bold" fill="#595959" text-anchor="end" stroke="#595959" stroke-width="0.15">2500</text>
<g fill="#1b5f84" stroke="#4f88a8" stroke-width="0.35"><rect x="236.80" y="617.70" width="3.87" height="0.90"/><rect x="240.67" y="613.50" width="3.87" height="5.10"/><rect x="244.53" y="608.10" width="3.87" height="10.50"/><rect x="248.40" y="594.60" width="3.87" height="24.00"/><rect x="252.26" y="575.00" width="3.87" height="43.60"/><rect x="256.13" y="556.80" width="3.87" height="61.80"/><rect x="260.00" y="541.90" width="3.87" height="76.70"/><rect x="263.86" y="541.40" width="3.87" height="77.20"/><rect x="267.73" y="549.90" width="3.87" height="68.70"/><rect x="271.59" y="564.50" width="3.87" height="54.10"/><rect x="275.46" y="582.30" width="3.87" height="36.30"/><rect x="279.33" y="586.80" width="3.87" height="31.80"/><rect x="283.19" y="592.90" width="3.87" height="25.70"/><rect x="287.06" y="593.30" width="3.87" height="25.30"/><rect x="290.92" y="595.10" width="3.87" height="23.50"/><rect x="294.79" y="593.30" width="3.87" height="25.30"/><rect x="298.66" y="591.80" width="3.87" height="26.80"/><rect x="302.52" y="594.00" width="3.87" height="24.60"/><rect x="306.39" y="589.30" width="3.87" height="29.30"/><rect x="310.25" y="588.70" width="3.87" height="29.90"/><rect x="314.12" y="588.50" width="3.87" height="30.10"/><rect x="317.99" y="588.50" width="3.87" height="30.10"/><rect x="321.85" y="586.00" width="3.87" height="32.60"/><rect x="325.72" y="583.60" width="3.87" height="35.00"/><rect x="329.58" y="582.40" width="3.87" height="36.20"/><rect x="333.45" y="580.00" width="3.87" height="38.60"/><rect x="337.32" y="577.30" width="3.87" height="41.30"/><rect x="341.18" y="572.70" width="3.87" height="45.90"/><rect x="345.05" y="577.30" width="3.87" height="41.30"/><rect x="348.91" y="584.00" width="3.87" height="34.60"/><rect x="352.78" y="594.50" width="3.87" height="24.10"/><rect x="356.65" y="614.00" width="3.87" height="4.60"/></g>
<text x="-0.57" y="0" font-size="7.30" font-weight="bold" fill="#1a1a1a" stroke="#1a1a1a" stroke-width="0.30" textLength="83.29" lengthAdjust="spacingAndGlyphs" transform="translate(213.90 633.30) rotate(-90)">Number of genes (N)</text>
<text x="249.10" y="629.80" font-size="10.40" font-weight="bold" fill="#000" text-anchor="middle">-30,000</text>
<text x="291.70" y="629.80" font-size="10.40" font-weight="bold" fill="#000" text-anchor="middle">0</text>
<text x="344.50" y="629.80" font-size="10.40" font-weight="bold" fill="#000" text-anchor="middle">30,000</text>
<text x="244.26" y="652.20" font-size="10.80" font-weight="bold" fill="#000" textLength="99.33" lengthAdjust="spacingAndGlyphs">GC rank - ENC rank</text>
<text x="230.15" y="686.80" font-size="13.30" font-weight="bold" fill="#000" textLength="123.43" lengthAdjust="spacingAndGlyphs">GC rank - ENC rank</text>
<text x="199.20" y="515.88" font-size="15.50" font-weight="bold" fill="#000" text-anchor="start">(k)</text>
<rect x="383.60" y="511.00" width="156.40" height="147.00" fill="#fff" stroke="#dadada" stroke-width="0.7"/>
<line x1="398.50" y1="615.00" x2="537.30" y2="615.00" stroke="#e3e3e3" stroke-width="0.60"/>
<line x1="398.50" y1="600.30" x2="537.30" y2="600.30" stroke="#e3e3e3" stroke-width="0.60"/>
<line x1="398.50" y1="585.60" x2="537.30" y2="585.60" stroke="#e3e3e3" stroke-width="0.60"/>
<line x1="398.50" y1="570.90" x2="537.30" y2="570.90" stroke="#e3e3e3" stroke-width="0.60"/>
<line x1="398.50" y1="556.20" x2="537.30" y2="556.20" stroke="#e3e3e3" stroke-width="0.60"/>
<line x1="398.50" y1="541.50" x2="537.30" y2="541.50" stroke="#e3e3e3" stroke-width="0.60"/>
<line x1="398.50" y1="526.80" x2="537.30" y2="526.80" stroke="#e3e3e3" stroke-width="0.60"/>
<text x="424.78" y="520.60" font-size="7.60" font-weight="bold" fill="#595959" stroke="#595959" stroke-width="0.12" textLength="76.43" lengthAdjust="spacingAndGlyphs">S cerevisiae GC-ENC</text>
<text x="395.80" y="616.66" font-size="4.60" font-weight="bold" fill="#595959" text-anchor="end" stroke="#595959" stroke-width="0.15">0</text>
<text x="395.80" y="601.96" font-size="4.60" font-weight="bold" fill="#595959" text-anchor="end" stroke="#595959" stroke-width="0.15">100</text>
<text x="395.80" y="587.26" font-size="4.60" font-weight="bold" fill="#595959" text-anchor="end" stroke="#595959" stroke-width="0.15">200</text>
<text x="395.80" y="572.56" font-size="4.60" font-weight="bold" fill="#595959" text-anchor="end" stroke="#595959" stroke-width="0.15">300</text>
<text x="395.80" y="557.86" font-size="4.60" font-weight="bold" fill="#595959" text-anchor="end" stroke="#595959" stroke-width="0.15">400</text>
<text x="395.80" y="543.16" font-size="4.60" font-weight="bold" fill="#595959" text-anchor="end" stroke="#595959" stroke-width="0.15">500</text>
<text x="395.80" y="528.46" font-size="4.60" font-weight="bold" fill="#595959" text-anchor="end" stroke="#595959" stroke-width="0.15">600</text>
<g fill="#1b5f84" stroke="#4f88a8" stroke-width="0.35"><rect x="398.50" y="612.30" width="5.34" height="2.70"/><rect x="403.84" y="610.50" width="5.34" height="4.50"/><rect x="409.18" y="608.10" width="5.34" height="6.90"/><rect x="414.52" y="601.00" width="5.34" height="14.00"/><rect x="419.86" y="594.10" width="5.34" height="20.90"/><rect x="425.20" y="589.90" width="5.34" height="25.10"/><rect x="430.54" y="578.30" width="5.34" height="36.70"/><rect x="435.88" y="573.50" width="5.34" height="41.50"/><rect x="441.22" y="557.70" width="5.34" height="57.30"/><rect x="446.56" y="556.50" width="5.34" height="58.50"/><rect x="451.90" y="544.00" width="5.34" height="71.00"/><rect x="457.24" y="537.30" width="5.34" height="77.70"/><rect x="462.58" y="534.00" width="5.34" height="81.00"/><rect x="467.92" y="553.10" width="5.34" height="61.90"/><rect x="473.26" y="568.20" width="5.34" height="46.80"/><rect x="478.60" y="570.00" width="5.34" height="45.00"/><rect x="483.94" y="578.20" width="5.34" height="36.80"/><rect x="489.28" y="585.10" width="5.34" height="29.90"/><rect x="494.62" y="588.70" width="5.34" height="26.30"/><rect x="499.96" y="593.10" width="5.34" height="21.90"/><rect x="505.30" y="590.50" width="5.34" height="24.50"/><rect x="510.64" y="593.60" width="5.34" height="21.40"/><rect x="515.98" y="594.90" width="5.34" height="20.10"/><rect x="521.32" y="598.20" width="5.34" height="16.80"/><rect x="526.66" y="602.40" width="5.34" height="12.60"/><rect x="532.00" y="611.30" width="5.34" height="3.70"/></g>
<text x="-0.57" y="0" font-size="7.30" font-weight="bold" fill="#1a1a1a" stroke="#1a1a1a" stroke-width="0.30" textLength="83.29" lengthAdjust="spacingAndGlyphs" transform="translate(379.40 624.50) rotate(-90)">Number of genes (N)</text>
<text x="408.50" y="627.50" font-size="10.40" font-weight="bold" fill="#000" text-anchor="middle">-6,000</text>
<text x="460.00" y="627.50" font-size="10.40" font-weight="bold" fill="#000" text-anchor="middle">0</text>
<text x="524.70" y="627.50" font-size="10.40" font-weight="bold" fill="#000" text-anchor="middle">6,000</text>
<text x="416.56" y="648.80" font-size="10.80" font-weight="bold" fill="#000" textLength="100.63" lengthAdjust="spacingAndGlyphs">GC rank - ENC rank</text>
<text x="399.65" y="686.30" font-size="13.30" font-weight="bold" fill="#000" textLength="123.43" lengthAdjust="spacingAndGlyphs">GC rank - ENC rank</text>
<text x="364.70" y="515.98" font-size="15.50" font-weight="bold" fill="#000" text-anchor="start">(l)</text>
<rect x="43.00" y="698.40" width="149.00" height="155.90" fill="#fff" stroke="#dadada" stroke-width="0.7"/>
<line x1="56.00" y1="806.50" x2="191.50" y2="806.50" stroke="#e3e3e3" stroke-width="0.60"/>
<line x1="56.00" y1="796.06" x2="191.50" y2="796.06" stroke="#e3e3e3" stroke-width="0.60"/>
<line x1="56.00" y1="785.62" x2="191.50" y2="785.62" stroke="#e3e3e3" stroke-width="0.60"/>
<line x1="56.00" y1="775.18" x2="191.50" y2="775.18" stroke="#e3e3e3" stroke-width="0.60"/>
<line x1="56.00" y1="764.74" x2="191.50" y2="764.74" stroke="#e3e3e3" stroke-width="0.60"/>
<line x1="56.00" y1="754.30" x2="191.50" y2="754.30" stroke="#e3e3e3" stroke-width="0.60"/>
<line x1="56.00" y1="743.86" x2="191.50" y2="743.86" stroke="#e3e3e3" stroke-width="0.60"/>
<line x1="56.00" y1="733.42" x2="191.50" y2="733.42" stroke="#e3e3e3" stroke-width="0.60"/>
<line x1="56.00" y1="722.98" x2="191.50" y2="722.98" stroke="#e3e3e3" stroke-width="0.60"/>
<line x1="56.00" y1="712.54" x2="191.50" y2="712.54" stroke="#e3e3e3" stroke-width="0.60"/>
<text x="78.95" y="707.30" font-size="6.80" font-weight="bold" fill="#595959" stroke="#595959" stroke-width="0.12" textLength="78.95" lengthAdjust="spacingAndGlyphs">Bee GC rank + ENC rank</text>
<text x="53.60" y="808.08" font-size="4.40" font-weight="bold" fill="#595959" text-anchor="end" stroke="#595959" stroke-width="0.15">0</text>
<text x="53.60" y="797.64" font-size="4.40" font-weight="bold" fill="#595959" text-anchor="end" stroke="#595959" stroke-width="0.15">100</text>
<text x="53.60" y="787.20" font-size="4.40" font-weight="bold" fill="#595959" text-anchor="end" stroke="#595959" stroke-width="0.15">200</text>
<text x="53.60" y="776.76" font-size="4.40" font-weight="bold" fill="#595959" text-anchor="end" stroke="#595959" stroke-width="0.15">300</text>
<text x="53.60" y="766.32" font-size="4.40" font-weight="bold" fill="#595959" text-anchor="end" stroke="#595959" stroke-width="0.15">400</text>
<text x="53.60" y="755.88" font-size="4.40" font-weight="bold" fill="#595959" text-anchor="end" stroke="#595959" stroke-width="0.15">500</text>
<text x="53.60" y="745.44" font-size="4.40" font-weight="bold" fill="#595959" text-anchor="end" stroke="#595959" stroke-width="0.15">600</text>
<text x="53.60" y="735.00" font-size="4.40" font-weight="bold" fill="#595959" text-anchor="end" stroke="#595959" stroke-width="0.15">700</text>
<text x="53.60" y="724.56" font-size="4.40" font-weight="bold" fill="#595959" text-anchor="end" stroke="#595959" stroke-width="0.15">800</text>
<text x="53.60" y="714.12" font-size="4.40" font-weight="bold" fill="#595959" text-anchor="end" stroke="#595959" stroke-width="0.15">900</text>
<g fill="#1b5f84" stroke="#4f88a8" stroke-width="0.35"><rect x="56.60" y="782.30" width="5.80" height="24.20"/><rect x="62.40" y="767.40" width="5.80" height="39.10"/><rect x="68.20" y="757.40" width="5.80" height="49.10"/><rect x="74.00" y="754.60" width="5.80" height="51.90"/><rect x="79.80" y="757.70" width="5.80" height="48.80"/><rect x="85.60" y="753.50" width="5.80" height="53.00"/><rect x="91.40" y="752.80" width="5.80" height="53.70"/><rect x="97.20" y="759.50" width="5.80" height="47.00"/><rect x="103.00" y="753.50" width="5.80" height="53.00"/><rect x="108.80" y="760.50" width="5.80" height="46.00"/><rect x="114.60" y="760.80" width="5.80" height="45.70"/><rect x="120.40" y="762.90" width="5.80" height="43.60"/><rect x="126.20" y="768.60" width="5.80" height="37.90"/><rect x="132.00" y="771.10" width="5.80" height="35.40"/><rect x="137.80" y="771.90" width="5.80" height="34.60"/><rect x="143.60" y="768.10" width="5.80" height="38.40"/><rect x="149.40" y="753.60" width="5.80" height="52.90"/><rect x="155.20" y="734.30" width="5.80" height="72.20"/><rect x="161.00" y="720.40" width="5.80" height="86.10"/><rect x="166.80" y="727.40" width="5.80" height="79.10"/><rect x="172.60" y="773.90" width="5.80" height="32.60"/><rect x="178.40" y="800.20" width="5.80" height="6.30"/><rect x="184.20" y="805.60" width="5.80" height="0.90"/></g>
<text x="-0.57" y="0" font-size="7.30" font-weight="bold" fill="#1a1a1a" stroke="#1a1a1a" stroke-width="0.30" textLength="83.39" lengthAdjust="spacingAndGlyphs" transform="translate(36.20 810.20) rotate(-90)">Number of genes (N)</text>
<text x="59.50" y="820.10" font-size="10.70" font-weight="bold" fill="#000" text-anchor="middle">0</text>
<text x="118.10" y="820.10" font-size="10.70" font-weight="bold" fill="#000" text-anchor="middle">10,000</text>
<text x="178.40" y="820.10" font-size="10.70" font-weight="bold" fill="#000" text-anchor="middle">20,000</text>
<text x="57.85" y="840.30" font-size="13.30" font-weight="bold" fill="#000" textLength="127.33" lengthAdjust="spacingAndGlyphs">GC rank + ENC rank</text>
<text x="17.70" y="709.68" font-size="15.50" font-weight="bold" fill="#000" text-anchor="start">(m)</text>
<rect x="223.00" y="698.20" width="139.00" height="148.30" fill="#fff" stroke="#dadada" stroke-width="0.7"/>
<line x1="239.20" y1="808.60" x2="358.50" y2="808.60" stroke="#e3e3e3" stroke-width="0.60"/>
<line x1="239.20" y1="799.00" x2="358.50" y2="799.00" stroke="#e3e3e3" stroke-width="0.60"/>
<line x1="239.20" y1="789.40" x2="358.50" y2="789.40" stroke="#e3e3e3" stroke-width="0.60"/>
<line x1="239.20" y1="779.80" x2="358.50" y2="779.80" stroke="#e3e3e3" stroke-width="0.60"/>
<line x1="239.20" y1="770.20" x2="358.50" y2="770.20" stroke="#e3e3e3" stroke-width="0.60"/>
<line x1="239.20" y1="760.60" x2="358.50" y2="760.60" stroke="#e3e3e3" stroke-width="0.60"/>
<line x1="239.20" y1="751.00" x2="358.50" y2="751.00" stroke="#e3e3e3" stroke-width="0.60"/>
<line x1="239.20" y1="741.40" x2="358.50" y2="741.40" stroke="#e3e3e3" stroke-width="0.60"/>
<line x1="239.20" y1="731.80" x2="358.50" y2="731.80" stroke="#e3e3e3" stroke-width="0.60"/>
<line x1="239.20" y1="722.20" x2="358.50" y2="722.20" stroke="#e3e3e3" stroke-width="0.60"/>
<line x1="239.20" y1="712.60" x2="358.50" y2="712.60" stroke="#e3e3e3" stroke-width="0.60"/>
<text x="251.23" y="707.40" font-size="6.90" font-weight="bold" fill="#595959" stroke="#595959" stroke-width="0.12" textLength="82.96" lengthAdjust="spacingAndGlyphs">Rice GC rank + ENC rank</text>
<text x="236.50" y="810.15" font-size="4.30" font-weight="bold" fill="#595959" text-anchor="end" stroke="#595959" stroke-width="0.15">0</text>
<text x="236.50" y="800.55" font-size="4.30" font-weight="bold" fill="#595959" text-anchor="end" stroke="#595959" stroke-width="0.15">200</text>
<text x="236.50" y="790.95" font-size="4.30" font-weight="bold" fill="#595959" text-anchor="end" stroke="#595959" stroke-width="0.15">400</text>
<text x="236.50" y="781.35" font-size="4.30" font-weight="bold" fill="#595959" text-anchor="end" stroke="#595959" stroke-width="0.15">600</text>
<text x="236.50" y="771.75" font-size="4.30" font-weight="bold" fill="#595959" text-anchor="end" stroke="#595959" stroke-width="0.15">800</text>
<text x="236.50" y="762.15" font-size="4.30" font-weight="bold" fill="#595959" text-anchor="end" stroke="#595959" stroke-width="0.15">1000</text>
<text x="236.50" y="752.55" font-size="4.30" font-weight="bold" fill="#595959" text-anchor="end" stroke="#595959" stroke-width="0.15">1200</text>
<text x="236.50" y="742.95" font-size="4.30" font-weight="bold" fill="#595959" text-anchor="end" stroke="#595959" stroke-width="0.15">1400</text>
<text x="236.50" y="733.35" font-size="4.30" font-weight="bold" fill="#595959" text-anchor="end" stroke="#595959" stroke-width="0.15">1600</text>
<text x="236.50" y="723.75" font-size="4.30" font-weight="bold" fill="#595959" text-anchor="end" stroke="#595959" stroke-width="0.15">1800</text>
<text x="236.50" y="714.15" font-size="4.30" font-weight="bold" fill="#595959" text-anchor="end" stroke="#595959" stroke-width="0.15">2000</text>
<g fill="#1b5f84" stroke="#4f88a8" stroke-width="0.35"><rect x="252.00" y="807.98" width="1.32" height="0.62"/><rect x="253.32" y="807.15" width="1.32" height="1.45"/><rect x="254.64" y="806.32" width="1.32" height="2.28"/><rect x="255.96" y="805.48" width="1.32" height="3.12"/><rect x="257.28" y="804.64" width="1.32" height="3.96"/><rect x="258.60" y="803.78" width="1.32" height="4.82"/><rect x="259.92" y="802.91" width="1.32" height="5.69"/><rect x="261.24" y="802.04" width="1.32" height="6.56"/><rect x="262.56" y="801.18" width="1.32" height="7.42"/><rect x="263.88" y="800.32" width="1.32" height="8.28"/><rect x="265.20" y="799.47" width="1.32" height="9.13"/><rect x="266.52" y="798.63" width="1.32" height="9.97"/><rect x="267.84" y="797.78" width="1.32" height="10.82"/><rect x="269.16" y="796.94" width="1.32" height="11.66"/><rect x="270.48" y="796.01" width="1.32" height="12.59"/><rect x="271.80" y="795.01" width="1.32" height="13.59"/><rect x="273.12" y="794.01" width="1.32" height="14.59"/><rect x="274.44" y="793.00" width="1.32" height="15.60"/><rect x="275.76" y="791.78" width="1.32" height="16.82"/><rect x="277.08" y="790.46" width="1.32" height="18.14"/><rect x="278.40" y="789.15" width="1.32" height="19.45"/><rect x="279.72" y="787.87" width="1.32" height="20.73"/><rect x="281.04" y="786.59" width="1.32" height="22.01"/><rect x="282.36" y="782.01" width="1.32" height="26.59"/><rect x="283.68" y="776.83" width="1.32" height="31.77"/><rect x="285.00" y="773.83" width="1.32" height="34.77"/><rect x="286.32" y="771.14" width="1.32" height="37.46"/><rect x="287.64" y="766.72" width="1.32" height="41.88"/><rect x="288.96" y="759.05" width="1.32" height="49.55"/><rect x="290.28" y="748.35" width="1.32" height="60.25"/><rect x="291.60" y="736.86" width="1.32" height="71.74"/><rect x="292.92" y="726.88" width="1.32" height="81.72"/><rect x="294.24" y="724.00" width="1.32" height="84.60"/><rect x="295.56" y="724.00" width="1.32" height="84.60"/><rect x="296.88" y="726.48" width="1.32" height="82.12"/><rect x="298.20" y="735.32" width="1.32" height="73.28"/><rect x="299.52" y="741.99" width="1.32" height="66.61"/><rect x="300.84" y="750.07" width="1.32" height="58.53"/><rect x="302.16" y="752.75" width="1.32" height="55.85"/><rect x="303.48" y="756.97" width="1.32" height="51.63"/><rect x="304.80" y="763.31" width="1.32" height="45.29"/><rect x="306.12" y="769.02" width="1.32" height="39.58"/><rect x="307.44" y="774.02" width="1.32" height="34.58"/><rect x="308.76" y="778.41" width="1.32" height="30.19"/><rect x="310.08" y="782.07" width="1.32" height="26.53"/><rect x="311.40" y="785.32" width="1.32" height="23.28"/><rect x="312.72" y="787.37" width="1.32" height="21.23"/><rect x="314.04" y="788.84" width="1.32" height="19.76"/><rect x="315.36" y="790.65" width="1.32" height="17.95"/><rect x="316.68" y="792.75" width="1.32" height="15.85"/><rect x="318.00" y="794.89" width="1.32" height="13.71"/><rect x="319.32" y="797.26" width="1.32" height="11.34"/><rect x="320.64" y="800.00" width="1.32" height="8.60"/><rect x="321.96" y="803.96" width="1.32" height="4.64"/><rect x="323.28" y="805.22" width="1.32" height="3.38"/><rect x="324.60" y="805.76" width="1.32" height="2.84"/><rect x="325.92" y="806.29" width="1.32" height="2.31"/><rect x="327.24" y="806.83" width="1.32" height="1.77"/><rect x="328.56" y="807.37" width="1.32" height="1.23"/><rect x="329.88" y="807.62" width="1.32" height="0.98"/><rect x="331.20" y="807.85" width="1.32" height="0.75"/><rect x="332.52" y="808.08" width="1.32" height="0.52"/><rect x="333.84" y="808.30" width="1.32" height="0.30"/></g>
<text x="-0.56" y="0" font-size="7.30" font-weight="bold" fill="#1a1a1a" stroke="#1a1a1a" stroke-width="0.30" textLength="82.07" lengthAdjust="spacingAndGlyphs" transform="translate(214.70 798.90) rotate(-90)">Number of genes (N)</text>
<text x="238.70" y="824.20" font-size="10.70" font-weight="bold" fill="#000" text-anchor="middle">0</text>
<text x="292.40" y="824.20" font-size="10.70" font-weight="bold" fill="#000" text-anchor="middle">30,000</text>
<text x="343.00" y="824.20" font-size="10.70" font-weight="bold" fill="#000" text-anchor="middle">60,000</text>
<text x="230.45" y="840.40" font-size="13.30" font-weight="bold" fill="#000" textLength="127.64" lengthAdjust="spacingAndGlyphs">GC rank + ENC rank</text>
<text x="199.90" y="705.68" font-size="15.50" font-weight="bold" fill="#000" text-anchor="start">(n)</text>
<rect x="389.00" y="697.30" width="150.00" height="148.20" fill="#fff" stroke="#dadada" stroke-width="0.7"/>
<line x1="401.50" y1="798.40" x2="537.00" y2="798.40" stroke="#e3e3e3" stroke-width="0.60"/>
<line x1="401.50" y1="784.20" x2="537.00" y2="784.20" stroke="#e3e3e3" stroke-width="0.60"/>
<line x1="401.50" y1="770.00" x2="537.00" y2="770.00" stroke="#e3e3e3" stroke-width="0.60"/>
<line x1="401.50" y1="755.80" x2="537.00" y2="755.80" stroke="#e3e3e3" stroke-width="0.60"/>
<line x1="401.50" y1="741.60" x2="537.00" y2="741.60" stroke="#e3e3e3" stroke-width="0.60"/>
<line x1="401.50" y1="727.40" x2="537.00" y2="727.40" stroke="#e3e3e3" stroke-width="0.60"/>
<line x1="401.50" y1="713.20" x2="537.00" y2="713.20" stroke="#e3e3e3" stroke-width="0.60"/>
<text x="425.38" y="707.60" font-size="7.50" font-weight="bold" fill="#595959" stroke="#595959" stroke-width="0.12" textLength="77.12" lengthAdjust="spacingAndGlyphs">S cerevisiae GC+ENC</text>
<text x="399.10" y="800.06" font-size="4.60" font-weight="bold" fill="#595959" text-anchor="end" stroke="#595959" stroke-width="0.15">0</text>
<text x="399.10" y="785.86" font-size="4.60" font-weight="bold" fill="#595959" text-anchor="end" stroke="#595959" stroke-width="0.15">100</text>
<text x="399.10" y="771.66" font-size="4.60" font-weight="bold" fill="#595959" text-anchor="end" stroke="#595959" stroke-width="0.15">200</text>
<text x="399.10" y="757.46" font-size="4.60" font-weight="bold" fill="#595959" text-anchor="end" stroke="#595959" stroke-width="0.15">300</text>
<text x="399.10" y="743.26" font-size="4.60" font-weight="bold" fill="#595959" text-anchor="end" stroke="#595959" stroke-width="0.15">400</text>
<text x="399.10" y="729.06" font-size="4.60" font-weight="bold" fill="#595959" text-anchor="end" stroke="#595959" stroke-width="0.15">500</text>
<text x="399.10" y="714.86" font-size="4.60" font-weight="bold" fill="#595959" text-anchor="end" stroke="#595959" stroke-width="0.15">600</text>
<g fill="#1b5f84" stroke="#4f88a8" stroke-width="0.35"><rect x="401.80" y="794.50" width="5.42" height="3.90"/><rect x="407.22" y="792.20" width="5.42" height="6.20"/><rect x="412.64" y="787.30" width="5.42" height="11.10"/><rect x="418.06" y="781.30" width="5.42" height="17.10"/><rect x="423.48" y="774.50" width="5.42" height="23.90"/><rect x="428.90" y="760.00" width="5.42" height="38.40"/><rect x="434.32" y="754.50" width="5.42" height="43.90"/><rect x="439.74" y="747.30" width="5.42" height="51.10"/><rect x="445.16" y="737.60" width="5.42" height="60.80"/><rect x="450.58" y="729.10" width="5.42" height="69.30"/><rect x="456.00" y="722.20" width="5.42" height="76.20"/><rect x="461.42" y="725.10" width="5.42" height="73.30"/><rect x="466.84" y="741.80" width="5.42" height="56.60"/><rect x="472.26" y="750.00" width="5.42" height="48.40"/><rect x="477.68" y="757.30" width="5.42" height="41.10"/><rect x="483.10" y="763.60" width="5.42" height="34.80"/><rect x="488.52" y="769.10" width="5.42" height="29.30"/><rect x="493.94" y="769.10" width="5.42" height="29.30"/><rect x="499.36" y="768.70" width="5.42" height="29.70"/><rect x="504.78" y="774.50" width="5.42" height="23.90"/><rect x="510.20" y="775.50" width="5.42" height="22.90"/><rect x="515.62" y="780.00" width="5.42" height="18.40"/><rect x="521.04" y="778.20" width="5.42" height="20.20"/><rect x="526.46" y="786.40" width="5.42" height="12.00"/><rect x="531.88" y="797.60" width="5.42" height="0.80"/></g>
<text x="-0.57" y="0" font-size="7.30" font-weight="bold" fill="#1a1a1a" stroke="#1a1a1a" stroke-width="0.30" textLength="83.39" lengthAdjust="spacingAndGlyphs" transform="translate(375.40 800.20) rotate(-90)">Number of genes (N)</text>
<text x="402.70" y="813.80" font-size="10.70" font-weight="bold" fill="#000" text-anchor="middle">0</text>
<text x="455.80" y="813.80" font-size="10.70" font-weight="bold" fill="#000" text-anchor="middle">6,000</text>
<text x="519.00" y="813.80" font-size="10.70" font-weight="bold" fill="#000" text-anchor="middle">12,000</text>
<text x="403.95" y="841.40" font-size="13.30" font-weight="bold" fill="#000" textLength="127.03" lengthAdjust="spacingAndGlyphs">GC rank + ENC rank</text>
<text x="368.20" y="709.78" font-size="15.50" font-weight="bold" fill="#000" text-anchor="start">(o)</text></svg>
</body></html>
